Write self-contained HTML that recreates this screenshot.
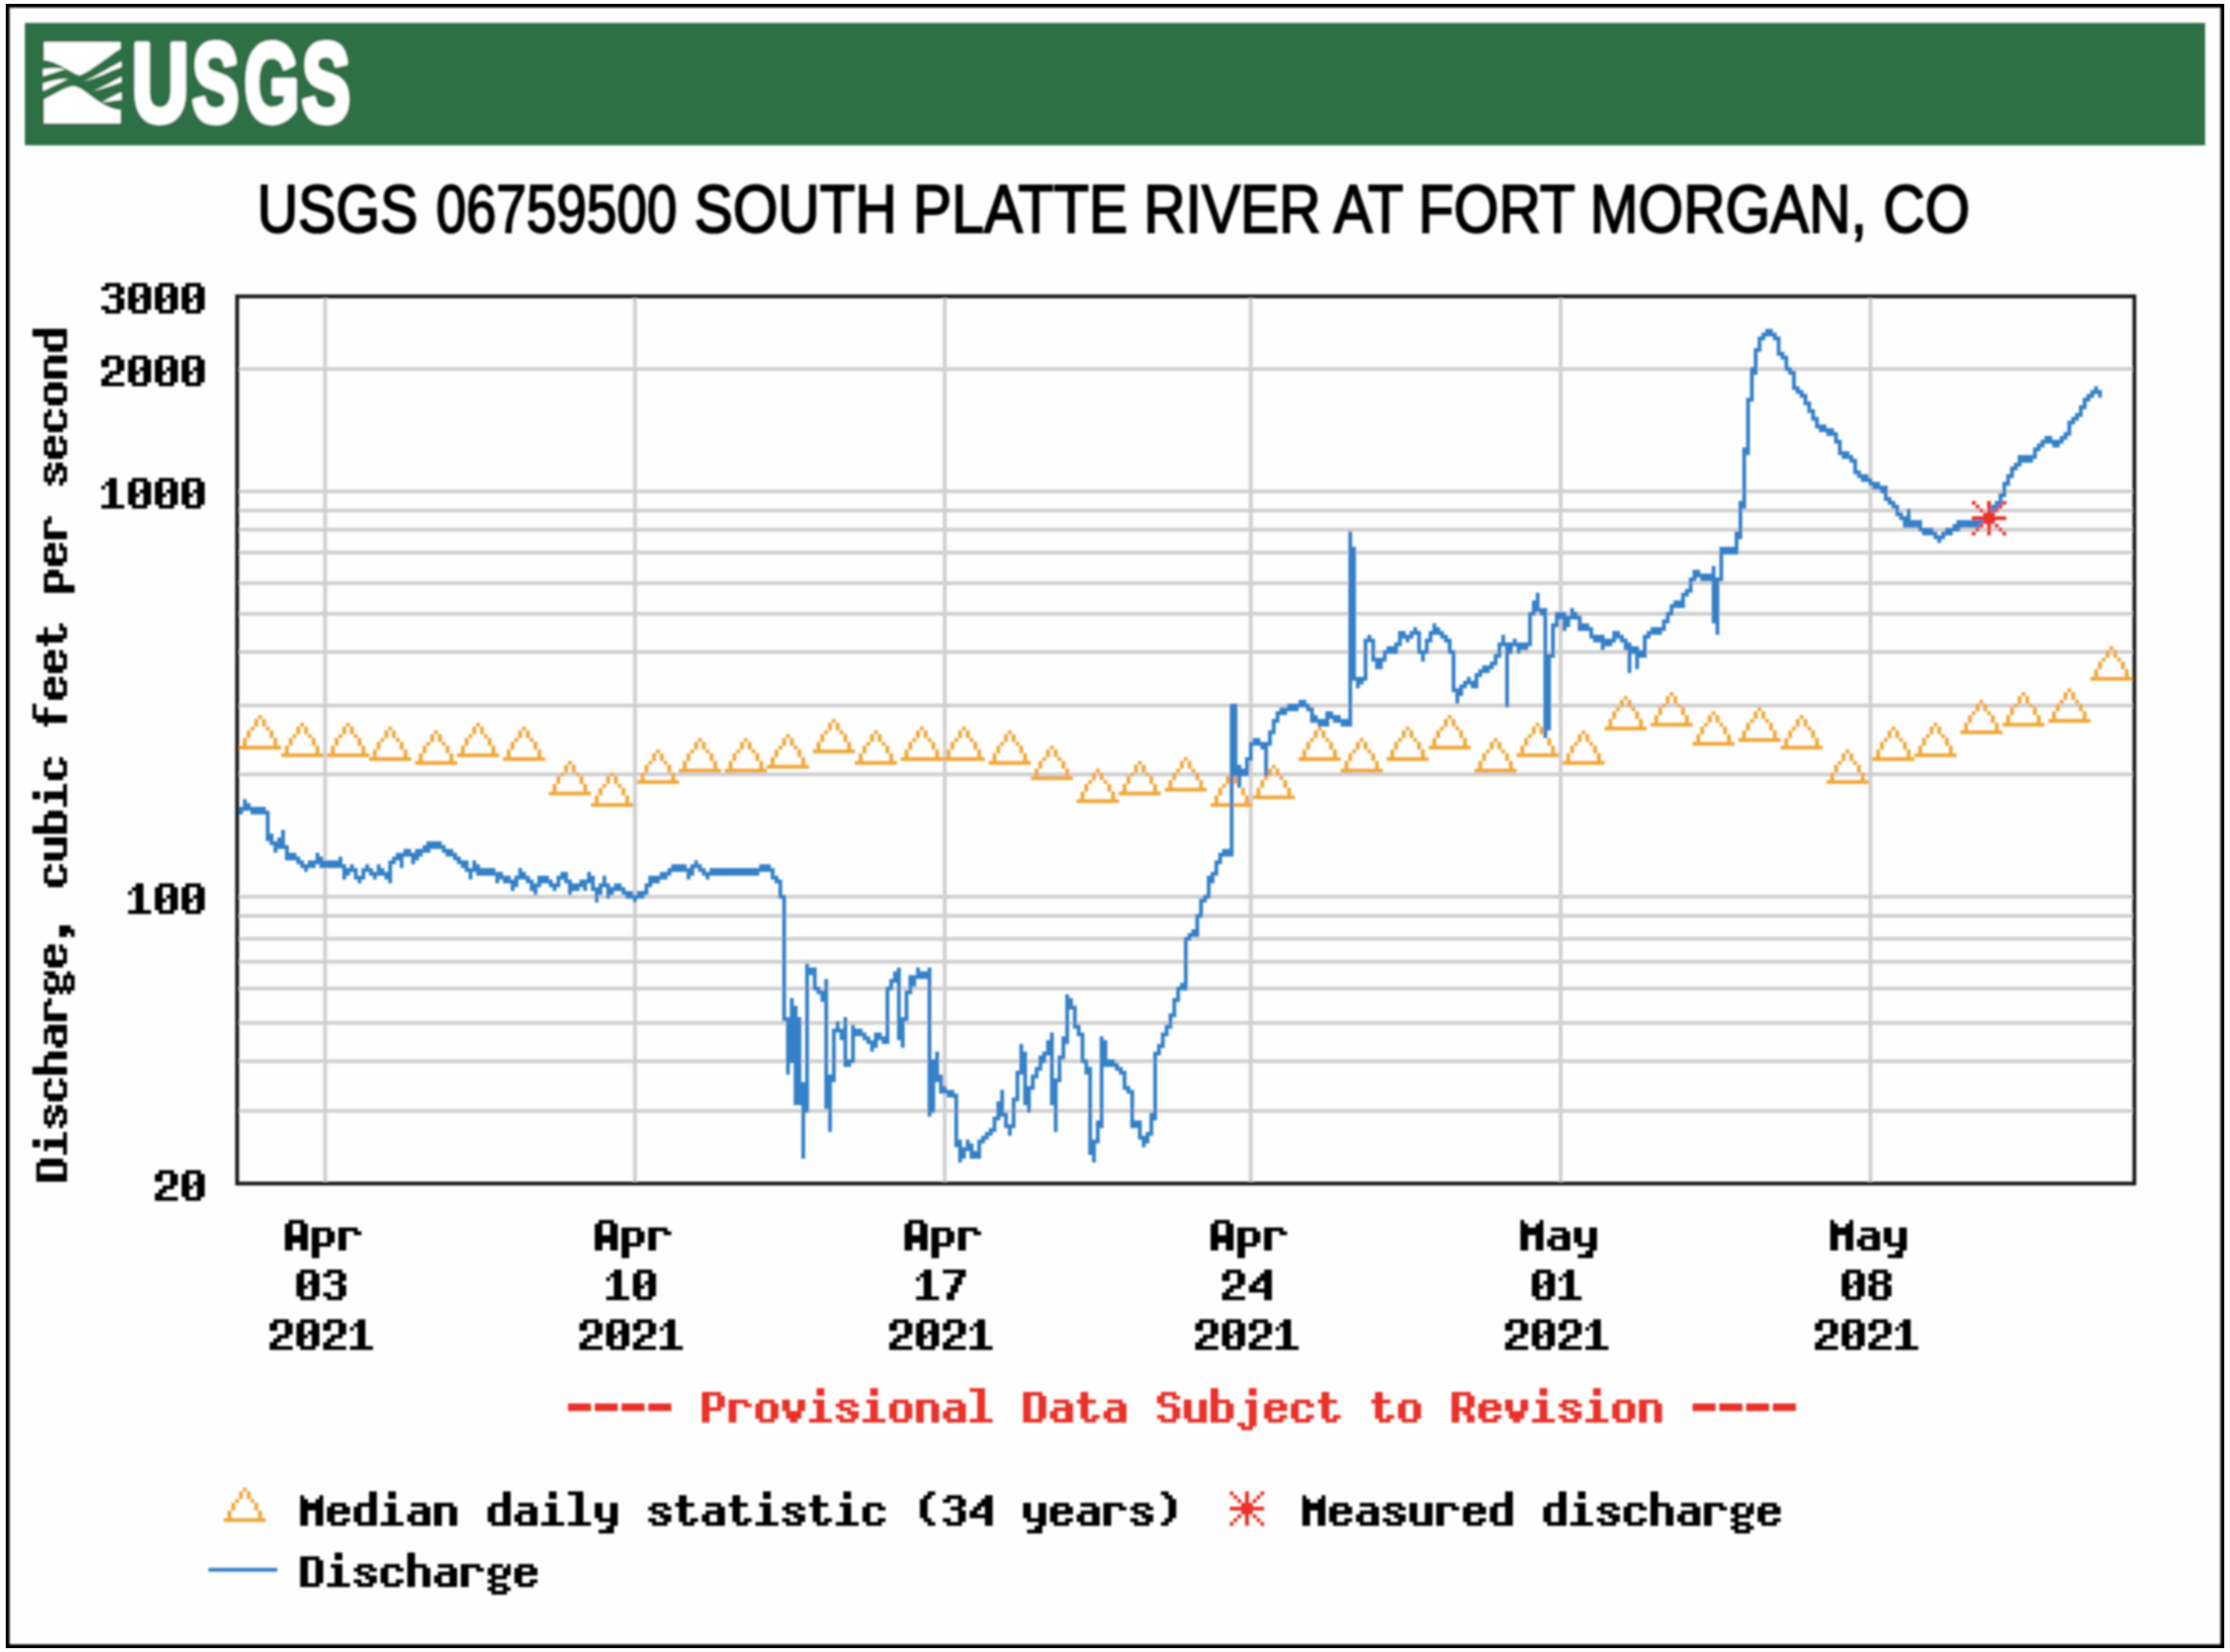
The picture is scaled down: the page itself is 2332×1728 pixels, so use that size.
<!DOCTYPE html><html><head><meta charset="utf-8"><style>html,body{margin:0;padding:0;background:#fff;}svg{display:block;}</style></head><body>
<svg width="2332" height="1728" viewBox="0 0 2332 1728">
<defs><filter id="blur" x="0" y="0" width="100%" height="100%" filterUnits="userSpaceOnUse"><feGaussianBlur stdDeviation="1.3"/></filter></defs>
<rect x="0" y="0" width="2332" height="1728" fill="#fefefe"/>
<g filter="url(#blur)">
<rect x="8" y="6" width="2316" height="1716" fill="none" stroke="#000" stroke-width="4"/>
<rect x="26" y="24" width="2280" height="128" fill="#2f6f45"/>
<g id="logo">
<rect x="46" y="44" width="80" height="85" fill="#fff"/>
<g transform="translate(46,44)">
<path d="M0,19 C14,20 24,30 37,35 C50,30 64,17 80,7 L80,71 C70,70 62,66 50,57 C42,51 36,46 30,46 C20,48 10,55 0,60 Z" fill="#2f6f45"/>
<g fill="#fff">
<path d="M-1,28.2 C8,27 16,27 23,28.2 C16,30 8,33 -1,35.7 Z"/>
<path d="M-1,43.2 C9,40 18,38 25.6,38.6 C18,42 9,47 -1,51.2 Z"/>
<path d="M81,20.2 C66,28 54,36 41.2,41.4 C54,38 68,31 81,25.9 Z"/>
<path d="M81,36.3 C70,42 60,48 51.5,51.2 C60,49 70,46 81,42 Z"/>
<path d="M81,52.4 C72,56 66,60 60.1,63.3 C68,62 74,61 81,60.4 Z"/>
</g></g>
</g>
<text transform="translate(137.7,127.1) scale(0.667,0.937)" x="0" y="0" font-family="Liberation Sans" font-weight="bold" font-size="124" fill="#fff" stroke="#fff" stroke-width="5" vector-effect="non-scaling-stroke" stroke-linejoin="round">U</text>
<text transform="translate(201.1,127.1) scale(0.59,0.937)" x="0" y="0" font-family="Liberation Sans" font-weight="bold" font-size="124" fill="#fff" stroke="#fff" stroke-width="5" vector-effect="non-scaling-stroke" stroke-linejoin="round">S</text>
<text transform="translate(255.5,127.1) scale(0.595,0.937)" x="0" y="0" font-family="Liberation Sans" font-weight="bold" font-size="124" fill="#fff" stroke="#fff" stroke-width="5" vector-effect="non-scaling-stroke" stroke-linejoin="round">G</text>
<text transform="translate(315.8,127.1) scale(0.61,0.937)" x="0" y="0" font-family="Liberation Sans" font-weight="bold" font-size="124" fill="#fff" stroke="#fff" stroke-width="5" vector-effect="non-scaling-stroke" stroke-linejoin="round">S</text>
<text x="269" y="242.5" font-family="Liberation Sans" font-size="71" fill="#000" stroke="#000" stroke-width="2" lengthAdjust="spacingAndGlyphs" textLength="168">USGS</text>
<text x="456" y="242.5" font-family="Liberation Sans" font-size="71" fill="#000" stroke="#000" stroke-width="2" lengthAdjust="spacingAndGlyphs" textLength="252">06759500</text>
<text x="726" y="242.5" font-family="Liberation Sans" font-size="71" fill="#000" stroke="#000" stroke-width="2" lengthAdjust="spacingAndGlyphs" textLength="1334">SOUTH PLATTE RIVER AT FORT MORGAN, CO</text>
<path d="M250,1162H2230 M250,1110H2230 M250,1070H2230 M250,1034H2230 M250,1006H2230 M250,982H2230 M250,958H2230 M250,938H2230 M250,810H2230 M250,738H2230 M250,682H2230 M250,642H2230 M250,610H2230 M250,578H2230 M250,554H2230 M250,534H2230 M250,514H2230 M250,386H2230 M340,312V1236 M664,312V1236 M988,312V1236 M1308,312V1236 M1632,312V1236 M1956,312V1236" stroke="#d0d0d0" stroke-width="4" fill="none"/>
<path d="M270,748h4v4h-4zM266,752h4v4h-4zM274,752h4v4h-4zM266,756h4v4h-4zM274,756h4v4h-4zM262,760h4v4h-4zM278,760h4v4h-4zM258,764h4v4h-4zM282,764h4v4h-4zM258,768h4v4h-4zM282,768h4v4h-4zM254,772h4v4h-4zM286,772h4v4h-4zM254,776h4v4h-4zM286,776h4v4h-4zM250,780h44v4h-44zM314,756h4v4h-4zM310,760h4v4h-4zM318,760h4v4h-4zM310,764h4v4h-4zM318,764h4v4h-4zM306,768h4v4h-4zM322,768h4v4h-4zM302,772h4v4h-4zM326,772h4v4h-4zM302,776h4v4h-4zM326,776h4v4h-4zM298,780h4v4h-4zM330,780h4v4h-4zM298,784h4v4h-4zM330,784h4v4h-4zM294,788h44v4h-44zM362,756h4v4h-4zM358,760h4v4h-4zM366,760h4v4h-4zM358,764h4v4h-4zM366,764h4v4h-4zM354,768h4v4h-4zM370,768h4v4h-4zM350,772h4v4h-4zM374,772h4v4h-4zM350,776h4v4h-4zM374,776h4v4h-4zM346,780h4v4h-4zM378,780h4v4h-4zM346,784h4v4h-4zM378,784h4v4h-4zM342,788h44v4h-44zM406,760h4v4h-4zM402,764h4v4h-4zM410,764h4v4h-4zM402,768h4v4h-4zM410,768h4v4h-4zM398,772h4v4h-4zM414,772h4v4h-4zM394,776h4v4h-4zM418,776h4v4h-4zM394,780h4v4h-4zM418,780h4v4h-4zM390,784h4v4h-4zM422,784h4v4h-4zM390,788h4v4h-4zM422,788h4v4h-4zM386,792h44v4h-44zM454,764h4v4h-4zM450,768h4v4h-4zM458,768h4v4h-4zM450,772h4v4h-4zM458,772h4v4h-4zM446,776h4v4h-4zM462,776h4v4h-4zM442,780h4v4h-4zM466,780h4v4h-4zM442,784h4v4h-4zM466,784h4v4h-4zM438,788h4v4h-4zM470,788h4v4h-4zM438,792h4v4h-4zM470,792h4v4h-4zM434,796h44v4h-44zM498,756h4v4h-4zM494,760h4v4h-4zM502,760h4v4h-4zM494,764h4v4h-4zM502,764h4v4h-4zM490,768h4v4h-4zM506,768h4v4h-4zM486,772h4v4h-4zM510,772h4v4h-4zM486,776h4v4h-4zM510,776h4v4h-4zM482,780h4v4h-4zM514,780h4v4h-4zM482,784h4v4h-4zM514,784h4v4h-4zM478,788h44v4h-44zM546,760h4v4h-4zM542,764h4v4h-4zM550,764h4v4h-4zM542,768h4v4h-4zM550,768h4v4h-4zM538,772h4v4h-4zM554,772h4v4h-4zM534,776h4v4h-4zM558,776h4v4h-4zM534,780h4v4h-4zM558,780h4v4h-4zM530,784h4v4h-4zM562,784h4v4h-4zM530,788h4v4h-4zM562,788h4v4h-4zM526,792h44v4h-44zM594,796h4v4h-4zM590,800h4v4h-4zM598,800h4v4h-4zM590,804h4v4h-4zM598,804h4v4h-4zM586,808h4v4h-4zM602,808h4v4h-4zM582,812h4v4h-4zM606,812h4v4h-4zM582,816h4v4h-4zM606,816h4v4h-4zM578,820h4v4h-4zM610,820h4v4h-4zM578,824h4v4h-4zM610,824h4v4h-4zM574,828h44v4h-44zM638,808h4v4h-4zM634,812h4v4h-4zM642,812h4v4h-4zM634,816h4v4h-4zM642,816h4v4h-4zM630,820h4v4h-4zM646,820h4v4h-4zM626,824h4v4h-4zM650,824h4v4h-4zM626,828h4v4h-4zM650,828h4v4h-4zM622,832h4v4h-4zM654,832h4v4h-4zM622,836h4v4h-4zM654,836h4v4h-4zM618,840h44v4h-44zM686,784h4v4h-4zM682,788h4v4h-4zM690,788h4v4h-4zM682,792h4v4h-4zM690,792h4v4h-4zM678,796h4v4h-4zM694,796h4v4h-4zM674,800h4v4h-4zM698,800h4v4h-4zM674,804h4v4h-4zM698,804h4v4h-4zM670,808h4v4h-4zM702,808h4v4h-4zM670,812h4v4h-4zM702,812h4v4h-4zM666,816h44v4h-44zM730,772h4v4h-4zM726,776h4v4h-4zM734,776h4v4h-4zM726,780h4v4h-4zM734,780h4v4h-4zM722,784h4v4h-4zM738,784h4v4h-4zM718,788h4v4h-4zM742,788h4v4h-4zM718,792h4v4h-4zM742,792h4v4h-4zM714,796h4v4h-4zM746,796h4v4h-4zM714,800h4v4h-4zM746,800h4v4h-4zM710,804h44v4h-44zM778,772h4v4h-4zM774,776h4v4h-4zM782,776h4v4h-4zM774,780h4v4h-4zM782,780h4v4h-4zM770,784h4v4h-4zM786,784h4v4h-4zM766,788h4v4h-4zM790,788h4v4h-4zM766,792h4v4h-4zM790,792h4v4h-4zM762,796h4v4h-4zM794,796h4v4h-4zM762,800h4v4h-4zM794,800h4v4h-4zM758,804h44v4h-44zM822,768h4v4h-4zM818,772h4v4h-4zM826,772h4v4h-4zM818,776h4v4h-4zM826,776h4v4h-4zM814,780h4v4h-4zM830,780h4v4h-4zM810,784h4v4h-4zM834,784h4v4h-4zM810,788h4v4h-4zM834,788h4v4h-4zM806,792h4v4h-4zM838,792h4v4h-4zM806,796h4v4h-4zM838,796h4v4h-4zM802,800h44v4h-44zM870,752h4v4h-4zM866,756h4v4h-4zM874,756h4v4h-4zM866,760h4v4h-4zM874,760h4v4h-4zM862,764h4v4h-4zM878,764h4v4h-4zM858,768h4v4h-4zM882,768h4v4h-4zM858,772h4v4h-4zM882,772h4v4h-4zM854,776h4v4h-4zM886,776h4v4h-4zM854,780h4v4h-4zM886,780h4v4h-4zM850,784h44v4h-44zM914,764h4v4h-4zM910,768h4v4h-4zM918,768h4v4h-4zM910,772h4v4h-4zM918,772h4v4h-4zM906,776h4v4h-4zM922,776h4v4h-4zM902,780h4v4h-4zM926,780h4v4h-4zM902,784h4v4h-4zM926,784h4v4h-4zM898,788h4v4h-4zM930,788h4v4h-4zM898,792h4v4h-4zM930,792h4v4h-4zM894,796h44v4h-44zM962,760h4v4h-4zM958,764h4v4h-4zM966,764h4v4h-4zM958,768h4v4h-4zM966,768h4v4h-4zM954,772h4v4h-4zM970,772h4v4h-4zM950,776h4v4h-4zM974,776h4v4h-4zM950,780h4v4h-4zM974,780h4v4h-4zM946,784h4v4h-4zM978,784h4v4h-4zM946,788h4v4h-4zM978,788h4v4h-4zM942,792h44v4h-44zM1006,760h4v4h-4zM1002,764h4v4h-4zM1010,764h4v4h-4zM1002,768h4v4h-4zM1010,768h4v4h-4zM998,772h4v4h-4zM1014,772h4v4h-4zM994,776h4v4h-4zM1018,776h4v4h-4zM994,780h4v4h-4zM1018,780h4v4h-4zM990,784h4v4h-4zM1022,784h4v4h-4zM990,788h4v4h-4zM1022,788h4v4h-4zM986,792h44v4h-44zM1054,764h4v4h-4zM1050,768h4v4h-4zM1058,768h4v4h-4zM1050,772h4v4h-4zM1058,772h4v4h-4zM1046,776h4v4h-4zM1062,776h4v4h-4zM1042,780h4v4h-4zM1066,780h4v4h-4zM1042,784h4v4h-4zM1066,784h4v4h-4zM1038,788h4v4h-4zM1070,788h4v4h-4zM1038,792h4v4h-4zM1070,792h4v4h-4zM1034,796h44v4h-44zM1098,780h4v4h-4zM1094,784h4v4h-4zM1102,784h4v4h-4zM1094,788h4v4h-4zM1102,788h4v4h-4zM1090,792h4v4h-4zM1106,792h4v4h-4zM1086,796h4v4h-4zM1110,796h4v4h-4zM1086,800h4v4h-4zM1110,800h4v4h-4zM1082,804h4v4h-4zM1114,804h4v4h-4zM1082,808h4v4h-4zM1114,808h4v4h-4zM1078,812h44v4h-44zM1146,804h4v4h-4zM1142,808h4v4h-4zM1150,808h4v4h-4zM1142,812h4v4h-4zM1150,812h4v4h-4zM1138,816h4v4h-4zM1154,816h4v4h-4zM1134,820h4v4h-4zM1158,820h4v4h-4zM1134,824h4v4h-4zM1158,824h4v4h-4zM1130,828h4v4h-4zM1162,828h4v4h-4zM1130,832h4v4h-4zM1162,832h4v4h-4zM1126,836h44v4h-44zM1190,796h4v4h-4zM1186,800h4v4h-4zM1194,800h4v4h-4zM1186,804h4v4h-4zM1194,804h4v4h-4zM1182,808h4v4h-4zM1198,808h4v4h-4zM1178,812h4v4h-4zM1202,812h4v4h-4zM1178,816h4v4h-4zM1202,816h4v4h-4zM1174,820h4v4h-4zM1206,820h4v4h-4zM1174,824h4v4h-4zM1206,824h4v4h-4zM1170,828h44v4h-44zM1238,792h4v4h-4zM1234,796h4v4h-4zM1242,796h4v4h-4zM1234,800h4v4h-4zM1242,800h4v4h-4zM1230,804h4v4h-4zM1246,804h4v4h-4zM1226,808h4v4h-4zM1250,808h4v4h-4zM1226,812h4v4h-4zM1250,812h4v4h-4zM1222,816h4v4h-4zM1254,816h4v4h-4zM1222,820h4v4h-4zM1254,820h4v4h-4zM1218,824h44v4h-44zM1286,808h4v4h-4zM1282,812h4v4h-4zM1290,812h4v4h-4zM1282,816h4v4h-4zM1290,816h4v4h-4zM1278,820h4v4h-4zM1294,820h4v4h-4zM1274,824h4v4h-4zM1298,824h4v4h-4zM1274,828h4v4h-4zM1298,828h4v4h-4zM1270,832h4v4h-4zM1302,832h4v4h-4zM1270,836h4v4h-4zM1302,836h4v4h-4zM1266,840h44v4h-44zM1330,800h4v4h-4zM1326,804h4v4h-4zM1334,804h4v4h-4zM1326,808h4v4h-4zM1334,808h4v4h-4zM1322,812h4v4h-4zM1338,812h4v4h-4zM1318,816h4v4h-4zM1342,816h4v4h-4zM1318,820h4v4h-4zM1342,820h4v4h-4zM1314,824h4v4h-4zM1346,824h4v4h-4zM1314,828h4v4h-4zM1346,828h4v4h-4zM1310,832h44v4h-44zM1378,760h4v4h-4zM1374,764h4v4h-4zM1382,764h4v4h-4zM1374,768h4v4h-4zM1382,768h4v4h-4zM1370,772h4v4h-4zM1386,772h4v4h-4zM1366,776h4v4h-4zM1390,776h4v4h-4zM1366,780h4v4h-4zM1390,780h4v4h-4zM1362,784h4v4h-4zM1394,784h4v4h-4zM1362,788h4v4h-4zM1394,788h4v4h-4zM1358,792h44v4h-44zM1422,772h4v4h-4zM1418,776h4v4h-4zM1426,776h4v4h-4zM1418,780h4v4h-4zM1426,780h4v4h-4zM1414,784h4v4h-4zM1430,784h4v4h-4zM1410,788h4v4h-4zM1434,788h4v4h-4zM1410,792h4v4h-4zM1434,792h4v4h-4zM1406,796h4v4h-4zM1438,796h4v4h-4zM1406,800h4v4h-4zM1438,800h4v4h-4zM1402,804h44v4h-44zM1470,760h4v4h-4zM1466,764h4v4h-4zM1474,764h4v4h-4zM1466,768h4v4h-4zM1474,768h4v4h-4zM1462,772h4v4h-4zM1478,772h4v4h-4zM1458,776h4v4h-4zM1482,776h4v4h-4zM1458,780h4v4h-4zM1482,780h4v4h-4zM1454,784h4v4h-4zM1486,784h4v4h-4zM1454,788h4v4h-4zM1486,788h4v4h-4zM1450,792h44v4h-44zM1514,748h4v4h-4zM1510,752h4v4h-4zM1518,752h4v4h-4zM1510,756h4v4h-4zM1518,756h4v4h-4zM1506,760h4v4h-4zM1522,760h4v4h-4zM1502,764h4v4h-4zM1526,764h4v4h-4zM1502,768h4v4h-4zM1526,768h4v4h-4zM1498,772h4v4h-4zM1530,772h4v4h-4zM1498,776h4v4h-4zM1530,776h4v4h-4zM1494,780h44v4h-44zM1562,772h4v4h-4zM1558,776h4v4h-4zM1566,776h4v4h-4zM1558,780h4v4h-4zM1566,780h4v4h-4zM1554,784h4v4h-4zM1570,784h4v4h-4zM1550,788h4v4h-4zM1574,788h4v4h-4zM1550,792h4v4h-4zM1574,792h4v4h-4zM1546,796h4v4h-4zM1578,796h4v4h-4zM1546,800h4v4h-4zM1578,800h4v4h-4zM1542,804h44v4h-44zM1606,756h4v4h-4zM1602,760h4v4h-4zM1610,760h4v4h-4zM1602,764h4v4h-4zM1610,764h4v4h-4zM1598,768h4v4h-4zM1614,768h4v4h-4zM1594,772h4v4h-4zM1618,772h4v4h-4zM1594,776h4v4h-4zM1618,776h4v4h-4zM1590,780h4v4h-4zM1622,780h4v4h-4zM1590,784h4v4h-4zM1622,784h4v4h-4zM1586,788h44v4h-44zM1654,764h4v4h-4zM1650,768h4v4h-4zM1658,768h4v4h-4zM1650,772h4v4h-4zM1658,772h4v4h-4zM1646,776h4v4h-4zM1662,776h4v4h-4zM1642,780h4v4h-4zM1666,780h4v4h-4zM1642,784h4v4h-4zM1666,784h4v4h-4zM1638,788h4v4h-4zM1670,788h4v4h-4zM1638,792h4v4h-4zM1670,792h4v4h-4zM1634,796h44v4h-44zM1698,728h4v4h-4zM1694,732h4v4h-4zM1702,732h4v4h-4zM1694,736h4v4h-4zM1702,736h4v4h-4zM1690,740h4v4h-4zM1706,740h4v4h-4zM1686,744h4v4h-4zM1710,744h4v4h-4zM1686,748h4v4h-4zM1710,748h4v4h-4zM1682,752h4v4h-4zM1714,752h4v4h-4zM1682,756h4v4h-4zM1714,756h4v4h-4zM1678,760h44v4h-44zM1746,724h4v4h-4zM1742,728h4v4h-4zM1750,728h4v4h-4zM1742,732h4v4h-4zM1750,732h4v4h-4zM1738,736h4v4h-4zM1754,736h4v4h-4zM1734,740h4v4h-4zM1758,740h4v4h-4zM1734,744h4v4h-4zM1758,744h4v4h-4zM1730,748h4v4h-4zM1762,748h4v4h-4zM1730,752h4v4h-4zM1762,752h4v4h-4zM1726,756h44v4h-44zM1790,744h4v4h-4zM1786,748h4v4h-4zM1794,748h4v4h-4zM1786,752h4v4h-4zM1794,752h4v4h-4zM1782,756h4v4h-4zM1798,756h4v4h-4zM1778,760h4v4h-4zM1802,760h4v4h-4zM1778,764h4v4h-4zM1802,764h4v4h-4zM1774,768h4v4h-4zM1806,768h4v4h-4zM1774,772h4v4h-4zM1806,772h4v4h-4zM1770,776h44v4h-44zM1838,740h4v4h-4zM1834,744h4v4h-4zM1842,744h4v4h-4zM1834,748h4v4h-4zM1842,748h4v4h-4zM1830,752h4v4h-4zM1846,752h4v4h-4zM1826,756h4v4h-4zM1850,756h4v4h-4zM1826,760h4v4h-4zM1850,760h4v4h-4zM1822,764h4v4h-4zM1854,764h4v4h-4zM1822,768h4v4h-4zM1854,768h4v4h-4zM1818,772h44v4h-44zM1882,748h4v4h-4zM1878,752h4v4h-4zM1886,752h4v4h-4zM1878,756h4v4h-4zM1886,756h4v4h-4zM1874,760h4v4h-4zM1890,760h4v4h-4zM1870,764h4v4h-4zM1894,764h4v4h-4zM1870,768h4v4h-4zM1894,768h4v4h-4zM1866,772h4v4h-4zM1898,772h4v4h-4zM1866,776h4v4h-4zM1898,776h4v4h-4zM1862,780h44v4h-44zM1930,784h4v4h-4zM1926,788h4v4h-4zM1934,788h4v4h-4zM1926,792h4v4h-4zM1934,792h4v4h-4zM1922,796h4v4h-4zM1938,796h4v4h-4zM1918,800h4v4h-4zM1942,800h4v4h-4zM1918,804h4v4h-4zM1942,804h4v4h-4zM1914,808h4v4h-4zM1946,808h4v4h-4zM1914,812h4v4h-4zM1946,812h4v4h-4zM1910,816h44v4h-44zM1978,760h4v4h-4zM1974,764h4v4h-4zM1982,764h4v4h-4zM1974,768h4v4h-4zM1982,768h4v4h-4zM1970,772h4v4h-4zM1986,772h4v4h-4zM1966,776h4v4h-4zM1990,776h4v4h-4zM1966,780h4v4h-4zM1990,780h4v4h-4zM1962,784h4v4h-4zM1994,784h4v4h-4zM1962,788h4v4h-4zM1994,788h4v4h-4zM1958,792h44v4h-44zM2022,756h4v4h-4zM2018,760h4v4h-4zM2026,760h4v4h-4zM2018,764h4v4h-4zM2026,764h4v4h-4zM2014,768h4v4h-4zM2030,768h4v4h-4zM2010,772h4v4h-4zM2034,772h4v4h-4zM2010,776h4v4h-4zM2034,776h4v4h-4zM2006,780h4v4h-4zM2038,780h4v4h-4zM2006,784h4v4h-4zM2038,784h4v4h-4zM2002,788h44v4h-44zM2070,732h4v4h-4zM2066,736h4v4h-4zM2074,736h4v4h-4zM2066,740h4v4h-4zM2074,740h4v4h-4zM2062,744h4v4h-4zM2078,744h4v4h-4zM2058,748h4v4h-4zM2082,748h4v4h-4zM2058,752h4v4h-4zM2082,752h4v4h-4zM2054,756h4v4h-4zM2086,756h4v4h-4zM2054,760h4v4h-4zM2086,760h4v4h-4zM2050,764h44v4h-44zM2114,724h4v4h-4zM2110,728h4v4h-4zM2118,728h4v4h-4zM2110,732h4v4h-4zM2118,732h4v4h-4zM2106,736h4v4h-4zM2122,736h4v4h-4zM2102,740h4v4h-4zM2126,740h4v4h-4zM2102,744h4v4h-4zM2126,744h4v4h-4zM2098,748h4v4h-4zM2130,748h4v4h-4zM2098,752h4v4h-4zM2130,752h4v4h-4zM2094,756h44v4h-44zM2162,720h4v4h-4zM2158,724h4v4h-4zM2166,724h4v4h-4zM2158,728h4v4h-4zM2166,728h4v4h-4zM2154,732h4v4h-4zM2170,732h4v4h-4zM2150,736h4v4h-4zM2174,736h4v4h-4zM2150,740h4v4h-4zM2174,740h4v4h-4zM2146,744h4v4h-4zM2178,744h4v4h-4zM2146,748h4v4h-4zM2178,748h4v4h-4zM2142,752h44v4h-44zM2206,676h4v4h-4zM2202,680h4v4h-4zM2210,680h4v4h-4zM2202,684h4v4h-4zM2210,684h4v4h-4zM2198,688h4v4h-4zM2214,688h4v4h-4zM2194,692h4v4h-4zM2218,692h4v4h-4zM2194,696h4v4h-4zM2218,696h4v4h-4zM2190,700h4v4h-4zM2222,700h4v4h-4zM2190,704h4v4h-4zM2222,704h4v4h-4zM2186,708h44v4h-44z" fill="#f0a83a"/>
<path d="M1846,344h8v4h-8zM1842,348h16v4h-16zM1838,352h8v4h-8zM1854,352h8v4h-8zM1838,356h4v4h-4zM1858,356h4v4h-4zM1838,360h4v4h-4zM1858,360h4v4h-4zM1834,364h8v4h-8zM1858,364h4v4h-4zM1834,368h4v4h-4zM1858,368h8v4h-8zM1834,372h4v4h-4zM1862,372h8v4h-8zM1834,376h4v4h-4zM1866,376h4v4h-4zM1834,380h4v4h-4zM1866,380h4v4h-4zM1830,384h8v4h-8zM1866,384h8v4h-8zM1830,388h8v4h-8zM1870,388h8v4h-8zM1830,392h4v4h-4zM1874,392h4v4h-4zM1830,396h4v4h-4zM1874,396h4v4h-4zM1830,400h4v4h-4zM1874,400h4v4h-4zM1830,404h4v4h-4zM1874,404h8v4h-8zM2190,404h4v4h-4zM1830,408h4v4h-4zM1878,408h8v4h-8zM2186,408h12v4h-12zM1830,412h4v4h-4zM1882,412h8v4h-8zM2182,412h8v4h-8zM2194,412h4v4h-4zM1826,416h8v4h-8zM1886,416h4v4h-4zM2178,416h8v4h-8zM1826,420h4v4h-4zM1886,420h8v4h-8zM2178,420h4v4h-4zM1826,424h4v4h-4zM1890,424h4v4h-4zM2174,424h8v4h-8zM1826,428h4v4h-4zM1890,428h8v4h-8zM2174,428h4v4h-4zM1826,432h4v4h-4zM1894,432h4v4h-4zM2170,432h8v4h-8zM1826,436h4v4h-4zM1894,436h8v4h-8zM2166,436h8v4h-8zM1826,440h4v4h-4zM1898,440h4v4h-4zM2162,440h8v4h-8zM1826,444h4v4h-4zM1898,444h12v4h-12zM2162,444h4v4h-4zM1826,448h4v4h-4zM1902,448h16v4h-16zM2162,448h4v4h-4zM1826,452h4v4h-4zM1910,452h12v4h-12zM2158,452h8v4h-8zM1826,456h4v4h-4zM1918,456h4v4h-4zM2138,456h8v4h-8zM2154,456h8v4h-8zM1826,460h4v4h-4zM1918,460h8v4h-8zM2134,460h24v4h-24zM1826,464h4v4h-4zM1922,464h4v4h-4zM2130,464h8v4h-8zM2146,464h8v4h-8zM1822,468h8v4h-8zM1922,468h4v4h-4zM2126,468h8v4h-8zM1822,472h8v4h-8zM1922,472h12v4h-12zM2126,472h4v4h-4zM1822,476h4v4h-4zM1926,476h12v4h-12zM2110,476h20v4h-20zM1822,480h4v4h-4zM1934,480h8v4h-8zM2110,480h16v4h-16zM1822,484h4v4h-4zM1938,484h4v4h-4zM2106,484h8v4h-8zM1822,488h4v4h-4zM1938,488h4v4h-4zM2102,488h8v4h-8zM1822,492h4v4h-4zM1938,492h8v4h-8zM2102,492h4v4h-4zM1822,496h4v4h-4zM1942,496h12v4h-12zM2098,496h8v4h-8zM1822,500h4v4h-4zM1946,500h12v4h-12zM2098,500h4v4h-4zM1822,504h4v4h-4zM1954,504h12v4h-12zM2094,504h8v4h-8zM1822,508h4v4h-4zM1958,508h16v4h-16zM2094,508h4v4h-4zM1822,512h4v4h-4zM1966,512h8v4h-8zM2094,512h4v4h-4zM1822,516h4v4h-4zM1970,516h4v4h-4zM2090,516h8v4h-8zM1822,520h4v4h-4zM1970,520h8v4h-8zM2090,520h4v4h-4zM1818,524h8v4h-8zM1974,524h8v4h-8zM2086,524h8v4h-8zM1818,528h8v4h-8zM1978,528h8v4h-8zM2082,528h8v4h-8zM1818,532h4v4h-4zM1982,532h4v4h-4zM1994,532h4v4h-4zM2078,532h8v4h-8zM1818,536h4v4h-4zM1982,536h8v4h-8zM1994,536h4v4h-4zM2074,536h8v4h-8zM1818,540h4v4h-4zM1986,540h12v4h-12zM2074,540h4v4h-4zM1818,544h4v4h-4zM1990,544h20v4h-20zM2046,544h32v4h-32zM1818,548h4v4h-4zM1990,548h20v4h-20zM2042,548h32v4h-32zM1818,552h4v4h-4zM2006,552h16v4h-16zM2034,552h16v4h-16zM1410,556h4v4h-4zM1814,556h8v4h-8zM2010,556h16v4h-16zM2030,556h12v4h-12zM1410,560h4v4h-4zM1814,560h8v4h-8zM2022,560h12v4h-12zM1410,564h4v4h-4zM1814,564h4v4h-4zM2026,564h4v4h-4zM1410,568h4v4h-4zM1814,568h4v4h-4zM1410,572h8v4h-8zM1798,572h20v4h-20zM1410,576h8v4h-8zM1798,576h20v4h-20zM1410,580h8v4h-8zM1798,580h4v4h-4zM1410,584h8v4h-8zM1798,584h4v4h-4zM1410,588h8v4h-8zM1798,588h4v4h-4zM1410,592h8v4h-8zM1790,592h4v4h-4zM1798,592h4v4h-4zM1410,596h8v4h-8zM1770,596h8v4h-8zM1790,596h4v4h-4zM1798,596h4v4h-4zM1410,600h8v4h-8zM1770,600h24v4h-24zM1798,600h4v4h-4zM1410,604h8v4h-8zM1766,604h8v4h-8zM1778,604h24v4h-24zM1410,608h8v4h-8zM1766,608h4v4h-4zM1790,608h8v4h-8zM1410,612h8v4h-8zM1766,612h4v4h-4zM1790,612h8v4h-8zM1410,616h8v4h-8zM1762,616h8v4h-8zM1790,616h8v4h-8zM1410,620h8v4h-8zM1606,620h4v4h-4zM1758,620h8v4h-8zM1790,620h8v4h-8zM1410,624h8v4h-8zM1606,624h4v4h-4zM1758,624h4v4h-4zM1790,624h8v4h-8zM1410,628h8v4h-8zM1602,628h8v4h-8zM1750,628h12v4h-12zM1790,628h8v4h-8zM1410,632h8v4h-8zM1602,632h8v4h-8zM1746,632h16v4h-16zM1790,632h8v4h-8zM1410,636h8v4h-8zM1602,636h16v4h-16zM1642,636h4v4h-4zM1746,636h4v4h-4zM1790,636h8v4h-8zM1410,640h8v4h-8zM1598,640h8v4h-8zM1610,640h8v4h-8zM1626,640h12v4h-12zM1642,640h8v4h-8zM1742,640h8v4h-8zM1790,640h8v4h-8zM1410,644h8v4h-8zM1598,644h4v4h-4zM1614,644h4v4h-4zM1626,644h28v4h-28zM1742,644h4v4h-4zM1790,644h8v4h-8zM1410,648h8v4h-8zM1598,648h4v4h-4zM1614,648h4v4h-4zM1626,648h4v4h-4zM1634,648h8v4h-8zM1650,648h4v4h-4zM1738,648h8v4h-8zM1790,648h8v4h-8zM1410,652h8v4h-8zM1498,652h4v4h-4zM1598,652h4v4h-4zM1614,652h4v4h-4zM1622,652h8v4h-8zM1634,652h8v4h-8zM1650,652h12v4h-12zM1738,652h4v4h-4zM1794,652h4v4h-4zM1410,656h8v4h-8zM1478,656h4v4h-4zM1498,656h8v4h-8zM1598,656h4v4h-4zM1614,656h4v4h-4zM1622,656h4v4h-4zM1634,656h4v4h-4zM1650,656h16v4h-16zM1726,656h16v4h-16zM1794,656h4v4h-4zM1410,660h8v4h-8zM1462,660h8v4h-8zM1474,660h12v4h-12zM1494,660h16v4h-16zM1598,660h4v4h-4zM1614,660h4v4h-4zM1622,660h4v4h-4zM1662,660h4v4h-4zM1686,660h8v4h-8zM1722,660h16v4h-16zM1794,660h4v4h-4zM1410,664h8v4h-8zM1430,664h4v4h-4zM1462,664h16v4h-16zM1482,664h4v4h-4zM1494,664h4v4h-4zM1506,664h8v4h-8zM1570,664h4v4h-4zM1598,664h4v4h-4zM1614,664h4v4h-4zM1622,664h4v4h-4zM1662,664h16v4h-16zM1686,664h12v4h-12zM1718,664h8v4h-8zM1410,668h8v4h-8zM1426,668h12v4h-12zM1462,668h4v4h-4zM1470,668h4v4h-4zM1482,668h4v4h-4zM1490,668h8v4h-8zM1510,668h8v4h-8zM1570,668h4v4h-4zM1582,668h4v4h-4zM1598,668h4v4h-4zM1614,668h4v4h-4zM1622,668h4v4h-4zM1666,668h24v4h-24zM1694,668h8v4h-8zM1718,668h4v4h-4zM1410,672h8v4h-8zM1426,672h4v4h-4zM1434,672h4v4h-4zM1458,672h8v4h-8zM1482,672h4v4h-4zM1490,672h4v4h-4zM1514,672h4v4h-4zM1566,672h36v4h-36zM1614,672h4v4h-4zM1622,672h4v4h-4zM1674,672h12v4h-12zM1698,672h8v4h-8zM1718,672h4v4h-4zM1410,676h8v4h-8zM1426,676h4v4h-4zM1434,676h4v4h-4zM1450,676h12v4h-12zM1482,676h4v4h-4zM1490,676h4v4h-4zM1514,676h4v4h-4zM1566,676h4v4h-4zM1574,676h8v4h-8zM1586,676h12v4h-12zM1614,676h4v4h-4zM1622,676h4v4h-4zM1674,676h4v4h-4zM1698,676h16v4h-16zM1718,676h4v4h-4zM1410,680h8v4h-8zM1426,680h4v4h-4zM1434,680h4v4h-4zM1446,680h16v4h-16zM1482,680h12v4h-12zM1514,680h8v4h-8zM1566,680h4v4h-4zM1574,680h8v4h-8zM1586,680h4v4h-4zM1614,680h4v4h-4zM1622,680h4v4h-4zM1702,680h20v4h-20zM1410,684h8v4h-8zM1426,684h4v4h-4zM1434,684h4v4h-4zM1446,684h4v4h-4zM1486,684h4v4h-4zM1518,684h4v4h-4zM1562,684h8v4h-8zM1574,684h4v4h-4zM1614,684h12v4h-12zM1702,684h4v4h-4zM1710,684h12v4h-12zM1410,688h8v4h-8zM1426,688h4v4h-4zM1434,688h16v4h-16zM1486,688h4v4h-4zM1518,688h4v4h-4zM1562,688h4v4h-4zM1574,688h4v4h-4zM1614,688h8v4h-8zM1702,688h4v4h-4zM1710,688h4v4h-4zM1410,692h8v4h-8zM1426,692h4v4h-4zM1438,692h8v4h-8zM1518,692h4v4h-4zM1558,692h8v4h-8zM1574,692h4v4h-4zM1614,692h8v4h-8zM1702,692h4v4h-4zM1710,692h4v4h-4zM1410,696h8v4h-8zM1426,696h4v4h-4zM1438,696h8v4h-8zM1518,696h4v4h-4zM1550,696h12v4h-12zM1574,696h4v4h-4zM1614,696h8v4h-8zM1702,696h4v4h-4zM1710,696h4v4h-4zM1410,700h8v4h-8zM1426,700h4v4h-4zM1518,700h4v4h-4zM1546,700h12v4h-12zM1574,700h4v4h-4zM1614,700h8v4h-8zM1702,700h4v4h-4zM1410,704h8v4h-8zM1426,704h4v4h-4zM1518,704h4v4h-4zM1542,704h8v4h-8zM1574,704h4v4h-4zM1614,704h8v4h-8zM1410,708h20v4h-20zM1518,708h4v4h-4zM1534,708h4v4h-4zM1542,708h4v4h-4zM1574,708h4v4h-4zM1614,708h8v4h-8zM1410,712h4v4h-4zM1418,712h8v4h-8zM1518,712h4v4h-4zM1530,712h16v4h-16zM1574,712h4v4h-4zM1614,712h8v4h-8zM1410,716h4v4h-4zM1418,716h4v4h-4zM1518,716h4v4h-4zM1526,716h8v4h-8zM1538,716h8v4h-8zM1574,716h4v4h-4zM1614,716h8v4h-8zM1410,720h4v4h-4zM1518,720h12v4h-12zM1574,720h4v4h-4zM1614,720h8v4h-8zM1410,724h4v4h-4zM1522,724h8v4h-8zM1574,724h4v4h-4zM1614,724h8v4h-8zM1410,728h4v4h-4zM1522,728h4v4h-4zM1574,728h4v4h-4zM1614,728h8v4h-8zM1358,732h8v4h-8zM1410,732h4v4h-4zM1522,732h4v4h-4zM1574,732h4v4h-4zM1614,732h8v4h-8zM1286,736h8v4h-8zM1346,736h24v4h-24zM1410,736h4v4h-4zM1574,736h4v4h-4zM1614,736h8v4h-8zM1286,740h8v4h-8zM1338,740h20v4h-20zM1366,740h8v4h-8zM1410,740h4v4h-4zM1614,740h8v4h-8zM1286,744h8v4h-8zM1334,744h12v4h-12zM1370,744h4v4h-4zM1386,744h8v4h-8zM1410,744h4v4h-4zM1614,744h8v4h-8zM1286,748h8v4h-8zM1334,748h4v4h-4zM1370,748h8v4h-8zM1386,748h16v4h-16zM1410,748h4v4h-4zM1614,748h8v4h-8zM1286,752h8v4h-8zM1330,752h8v4h-8zM1370,752h20v4h-20zM1394,752h20v4h-20zM1614,752h8v4h-8zM1286,756h8v4h-8zM1330,756h4v4h-4zM1378,756h12v4h-12zM1402,756h12v4h-12zM1614,756h8v4h-8zM1286,760h8v4h-8zM1330,760h4v4h-4zM1614,760h8v4h-8zM1286,764h8v4h-8zM1326,764h8v4h-8zM1614,764h4v4h-4zM1286,768h8v4h-8zM1326,768h4v4h-4zM1614,768h4v4h-4zM1286,772h8v4h-8zM1310,772h8v4h-8zM1326,772h4v4h-4zM1286,776h8v4h-8zM1306,776h24v4h-24zM1286,780h8v4h-8zM1306,780h4v4h-4zM1318,780h8v4h-8zM1286,784h8v4h-8zM1306,784h4v4h-4zM1322,784h4v4h-4zM1286,788h8v4h-8zM1306,788h4v4h-4zM1322,788h4v4h-4zM1286,792h8v4h-8zM1302,792h8v4h-8zM1322,792h4v4h-4zM1286,796h8v4h-8zM1302,796h4v4h-4zM1322,796h4v4h-4zM1286,800h12v4h-12zM1302,800h4v4h-4zM1322,800h4v4h-4zM1286,804h20v4h-20zM1322,804h4v4h-4zM1286,808h20v4h-20zM1322,808h4v4h-4zM1286,812h4v4h-4zM1294,812h4v4h-4zM1286,816h4v4h-4zM1294,816h4v4h-4zM1286,820h4v4h-4zM1294,820h4v4h-4zM1286,824h4v4h-4zM1286,828h4v4h-4zM1286,832h4v4h-4zM254,836h4v4h-4zM1286,836h4v4h-4zM254,840h8v4h-8zM1286,840h4v4h-4zM250,844h28v4h-28zM1286,844h4v4h-4zM250,848h4v4h-4zM262,848h20v4h-20zM1286,848h4v4h-4zM278,852h4v4h-4zM1286,852h4v4h-4zM278,856h4v4h-4zM1286,856h4v4h-4zM278,860h4v4h-4zM1286,860h4v4h-4zM278,864h4v4h-4zM1286,864h4v4h-4zM278,868h4v4h-4zM294,868h4v4h-4zM1286,868h4v4h-4zM278,872h8v4h-8zM294,872h4v4h-4zM1286,872h4v4h-4zM278,876h8v4h-8zM290,876h8v4h-8zM1286,876h4v4h-4zM282,880h16v4h-16zM446,880h16v4h-16zM1286,880h4v4h-4zM286,884h16v4h-16zM442,884h24v4h-24zM1286,884h4v4h-4zM286,888h4v4h-4zM298,888h4v4h-4zM422,888h8v4h-8zM434,888h16v4h-16zM462,888h12v4h-12zM1278,888h12v4h-12zM298,892h12v4h-12zM330,892h4v4h-4zM414,892h28v4h-28zM466,892h12v4h-12zM1274,892h16v4h-16zM298,896h16v4h-16zM330,896h8v4h-8zM354,896h4v4h-4zM410,896h12v4h-12zM430,896h8v4h-8zM474,896h8v4h-8zM1274,896h4v4h-4zM310,900h8v4h-8zM322,900h36v4h-36zM406,900h8v4h-8zM418,900h4v4h-4zM430,900h4v4h-4zM478,900h12v4h-12zM494,900h4v4h-4zM726,900h4v4h-4zM1270,900h8v4h-8zM314,904h16v4h-16zM334,904h28v4h-28zM366,904h4v4h-4zM382,904h4v4h-4zM394,904h4v4h-4zM406,904h4v4h-4zM418,904h4v4h-4zM482,904h8v4h-8zM494,904h8v4h-8zM702,904h16v4h-16zM722,904h12v4h-12zM794,904h12v4h-12zM1270,904h4v4h-4zM318,908h4v4h-4zM358,908h16v4h-16zM378,908h12v4h-12zM394,908h8v4h-8zM406,908h4v4h-4zM486,908h32v4h-32zM542,908h4v4h-4zM698,908h28v4h-28zM730,908h8v4h-8zM742,908h68v4h-68zM1270,908h4v4h-4zM358,912h8v4h-8zM370,912h4v4h-4zM378,912h4v4h-4zM386,912h24v4h-24zM490,912h4v4h-4zM498,912h28v4h-28zM542,912h8v4h-8zM586,912h8v4h-8zM614,912h4v4h-4zM690,912h12v4h-12zM718,912h8v4h-8zM734,912h60v4h-60zM806,912h4v4h-4zM1266,912h8v4h-8zM358,916h4v4h-4zM370,916h12v4h-12zM390,916h4v4h-4zM402,916h8v4h-8zM490,916h4v4h-4zM518,916h16v4h-16zM538,916h16v4h-16zM562,916h12v4h-12zM582,916h12v4h-12zM614,916h8v4h-8zM630,916h4v4h-4zM678,916h20v4h-20zM718,916h4v4h-4zM738,916h4v4h-4zM806,916h8v4h-8zM1262,916h8v4h-8zM374,920h4v4h-4zM406,920h4v4h-4zM518,920h4v4h-4zM526,920h16v4h-16zM550,920h8v4h-8zM562,920h16v4h-16zM582,920h4v4h-4zM590,920h8v4h-8zM606,920h16v4h-16zM630,920h4v4h-4zM678,920h12v4h-12zM810,920h8v4h-8zM1262,920h8v4h-8zM534,924h8v4h-8zM554,924h12v4h-12zM574,924h12v4h-12zM594,924h20v4h-20zM618,924h4v4h-4zM626,924h12v4h-12zM642,924h8v4h-8zM674,924h8v4h-8zM814,924h4v4h-4zM1262,924h4v4h-4zM534,928h4v4h-4zM554,928h8v4h-8zM578,928h4v4h-4zM594,928h12v4h-12zM610,928h4v4h-4zM618,928h12v4h-12zM634,928h20v4h-20zM674,928h4v4h-4zM814,928h4v4h-4zM1262,928h4v4h-4zM558,932h4v4h-4zM594,932h4v4h-4zM622,932h8v4h-8zM634,932h8v4h-8zM650,932h12v4h-12zM666,932h12v4h-12zM814,932h4v4h-4zM1262,932h4v4h-4zM622,936h4v4h-4zM634,936h4v4h-4zM654,936h20v4h-20zM814,936h8v4h-8zM1258,936h8v4h-8zM622,940h4v4h-4zM662,940h4v4h-4zM818,940h4v4h-4zM1254,940h8v4h-8zM818,944h4v4h-4zM1254,944h4v4h-4zM818,948h4v4h-4zM1254,948h4v4h-4zM818,952h4v4h-4zM1254,952h4v4h-4zM818,956h4v4h-4zM1250,956h8v4h-8zM818,960h4v4h-4zM1250,960h4v4h-4zM818,964h4v4h-4zM1250,964h4v4h-4zM818,968h4v4h-4zM1250,968h4v4h-4zM818,972h4v4h-4zM1246,972h8v4h-8zM818,976h4v4h-4zM1242,976h12v4h-12zM818,980h4v4h-4zM1238,980h8v4h-8zM818,984h4v4h-4zM1238,984h4v4h-4zM818,988h4v4h-4zM1238,988h4v4h-4zM818,992h4v4h-4zM1238,992h4v4h-4zM818,996h4v4h-4zM1238,996h4v4h-4zM818,1000h4v4h-4zM1238,1000h4v4h-4zM818,1004h4v4h-4zM1238,1004h4v4h-4zM818,1008h4v4h-4zM842,1008h4v4h-4zM1238,1008h4v4h-4zM818,1012h4v4h-4zM842,1012h12v4h-12zM938,1012h4v4h-4zM958,1012h4v4h-4zM970,1012h4v4h-4zM1238,1012h4v4h-4zM818,1016h4v4h-4zM842,1016h12v4h-12zM934,1016h8v4h-8zM958,1016h16v4h-16zM1238,1016h4v4h-4zM818,1020h4v4h-4zM842,1020h4v4h-4zM850,1020h4v4h-4zM934,1020h8v4h-8zM950,1020h24v4h-24zM1238,1020h4v4h-4zM818,1024h4v4h-4zM842,1024h4v4h-4zM850,1024h4v4h-4zM862,1024h4v4h-4zM930,1024h12v4h-12zM950,1024h8v4h-8zM970,1024h4v4h-4zM1238,1024h4v4h-4zM818,1028h4v4h-4zM842,1028h4v4h-4zM850,1028h4v4h-4zM862,1028h4v4h-4zM930,1028h4v4h-4zM938,1028h4v4h-4zM950,1028h8v4h-8zM970,1028h4v4h-4zM1234,1028h8v4h-8zM818,1032h4v4h-4zM842,1032h4v4h-4zM850,1032h8v4h-8zM862,1032h4v4h-4zM926,1032h8v4h-8zM938,1032h4v4h-4zM950,1032h4v4h-4zM970,1032h4v4h-4zM1230,1032h12v4h-12zM818,1036h4v4h-4zM842,1036h4v4h-4zM854,1036h12v4h-12zM926,1036h4v4h-4zM938,1036h4v4h-4zM946,1036h8v4h-8zM970,1036h4v4h-4zM1230,1036h4v4h-4zM818,1040h4v4h-4zM842,1040h4v4h-4zM858,1040h8v4h-8zM926,1040h4v4h-4zM938,1040h4v4h-4zM946,1040h4v4h-4zM970,1040h4v4h-4zM1114,1040h4v4h-4zM1230,1040h4v4h-4zM818,1044h4v4h-4zM826,1044h4v4h-4zM842,1044h4v4h-4zM858,1044h8v4h-8zM926,1044h4v4h-4zM938,1044h4v4h-4zM946,1044h4v4h-4zM970,1044h4v4h-4zM1114,1044h8v4h-8zM1226,1044h8v4h-8zM818,1048h4v4h-4zM826,1048h4v4h-4zM842,1048h4v4h-4zM862,1048h4v4h-4zM926,1048h4v4h-4zM938,1048h4v4h-4zM946,1048h4v4h-4zM970,1048h4v4h-4zM1114,1048h8v4h-8zM1226,1048h4v4h-4zM818,1052h4v4h-4zM826,1052h8v4h-8zM842,1052h4v4h-4zM862,1052h4v4h-4zM926,1052h4v4h-4zM938,1052h4v4h-4zM946,1052h4v4h-4zM970,1052h4v4h-4zM1114,1052h12v4h-12zM1226,1052h4v4h-4zM818,1056h4v4h-4zM826,1056h8v4h-8zM842,1056h4v4h-4zM862,1056h4v4h-4zM926,1056h4v4h-4zM938,1056h4v4h-4zM946,1056h4v4h-4zM970,1056h4v4h-4zM1114,1056h4v4h-4zM1122,1056h4v4h-4zM1226,1056h4v4h-4zM818,1060h4v4h-4zM826,1060h8v4h-8zM842,1060h4v4h-4zM862,1060h4v4h-4zM926,1060h4v4h-4zM938,1060h4v4h-4zM946,1060h4v4h-4zM970,1060h4v4h-4zM1114,1060h4v4h-4zM1122,1060h4v4h-4zM1222,1060h8v4h-8zM818,1064h20v4h-20zM842,1064h4v4h-4zM862,1064h4v4h-4zM882,1064h4v4h-4zM926,1064h4v4h-4zM938,1064h12v4h-12zM970,1064h4v4h-4zM1114,1064h4v4h-4zM1122,1064h4v4h-4zM1222,1064h4v4h-4zM822,1068h16v4h-16zM842,1068h4v4h-4zM862,1068h4v4h-4zM874,1068h4v4h-4zM882,1068h4v4h-4zM926,1068h4v4h-4zM938,1068h8v4h-8zM970,1068h4v4h-4zM1114,1068h4v4h-4zM1122,1068h4v4h-4zM1222,1068h4v4h-4zM822,1072h16v4h-16zM842,1072h4v4h-4zM862,1072h4v4h-4zM874,1072h4v4h-4zM882,1072h4v4h-4zM890,1072h4v4h-4zM926,1072h4v4h-4zM938,1072h8v4h-8zM970,1072h4v4h-4zM1114,1072h4v4h-4zM1122,1072h8v4h-8zM1218,1072h8v4h-8zM822,1076h16v4h-16zM842,1076h4v4h-4zM862,1076h4v4h-4zM870,1076h16v4h-16zM890,1076h12v4h-12zM926,1076h4v4h-4zM938,1076h8v4h-8zM970,1076h4v4h-4zM1114,1076h4v4h-4zM1126,1076h4v4h-4zM1218,1076h4v4h-4zM822,1080h16v4h-16zM842,1080h4v4h-4zM862,1080h4v4h-4zM870,1080h4v4h-4zM878,1080h8v4h-8zM890,1080h16v4h-16zM914,1080h8v4h-8zM926,1080h4v4h-4zM938,1080h8v4h-8zM970,1080h4v4h-4zM1098,1080h4v4h-4zM1114,1080h4v4h-4zM1126,1080h8v4h-8zM1214,1080h8v4h-8zM822,1084h16v4h-16zM842,1084h4v4h-4zM862,1084h4v4h-4zM870,1084h4v4h-4zM878,1084h8v4h-8zM890,1084h4v4h-4zM902,1084h8v4h-8zM914,1084h16v4h-16zM938,1084h8v4h-8zM970,1084h4v4h-4zM1098,1084h4v4h-4zM1110,1084h8v4h-8zM1130,1084h4v4h-4zM1150,1084h4v4h-4zM1214,1084h4v4h-4zM822,1088h16v4h-16zM842,1088h4v4h-4zM862,1088h4v4h-4zM870,1088h4v4h-4zM882,1088h4v4h-4zM890,1088h4v4h-4zM906,1088h12v4h-12zM922,1088h8v4h-8zM942,1088h4v4h-4zM970,1088h4v4h-4zM1094,1088h8v4h-8zM1110,1088h8v4h-8zM1130,1088h4v4h-4zM1150,1088h8v4h-8zM1214,1088h4v4h-4zM822,1092h16v4h-16zM842,1092h4v4h-4zM862,1092h4v4h-4zM870,1092h4v4h-4zM882,1092h4v4h-4zM890,1092h4v4h-4zM910,1092h8v4h-8zM942,1092h4v4h-4zM970,1092h4v4h-4zM1066,1092h4v4h-4zM1094,1092h8v4h-8zM1110,1092h4v4h-4zM1130,1092h4v4h-4zM1150,1092h8v4h-8zM1210,1092h8v4h-8zM822,1096h16v4h-16zM842,1096h4v4h-4zM862,1096h4v4h-4zM870,1096h4v4h-4zM882,1096h4v4h-4zM890,1096h4v4h-4zM910,1096h4v4h-4zM970,1096h4v4h-4zM1066,1096h4v4h-4zM1094,1096h8v4h-8zM1110,1096h4v4h-4zM1130,1096h4v4h-4zM1150,1096h8v4h-8zM1210,1096h4v4h-4zM822,1100h16v4h-16zM842,1100h4v4h-4zM862,1100h4v4h-4zM870,1100h4v4h-4zM882,1100h4v4h-4zM890,1100h4v4h-4zM970,1100h4v4h-4zM978,1100h4v4h-4zM1066,1100h8v4h-8zM1090,1100h12v4h-12zM1110,1100h4v4h-4zM1130,1100h4v4h-4zM1150,1100h8v4h-8zM1206,1100h8v4h-8zM822,1104h16v4h-16zM842,1104h4v4h-4zM862,1104h4v4h-4zM870,1104h4v4h-4zM882,1104h4v4h-4zM890,1104h4v4h-4zM970,1104h4v4h-4zM978,1104h4v4h-4zM1066,1104h8v4h-8zM1086,1104h8v4h-8zM1098,1104h4v4h-4zM1106,1104h8v4h-8zM1130,1104h4v4h-4zM1150,1104h8v4h-8zM1206,1104h4v4h-4zM822,1108h16v4h-16zM842,1108h4v4h-4zM862,1108h4v4h-4zM870,1108h4v4h-4zM882,1108h12v4h-12zM970,1108h12v4h-12zM1066,1108h8v4h-8zM1086,1108h8v4h-8zM1098,1108h4v4h-4zM1106,1108h4v4h-4zM1130,1108h8v4h-8zM1150,1108h16v4h-16zM1206,1108h4v4h-4zM822,1112h4v4h-4zM830,1112h8v4h-8zM842,1112h4v4h-4zM862,1112h4v4h-4zM870,1112h4v4h-4zM882,1112h8v4h-8zM970,1112h12v4h-12zM1066,1112h8v4h-8zM1086,1112h4v4h-4zM1098,1112h4v4h-4zM1106,1112h4v4h-4zM1134,1112h4v4h-4zM1150,1112h20v4h-20zM1206,1112h4v4h-4zM822,1116h4v4h-4zM830,1116h8v4h-8zM842,1116h4v4h-4zM862,1116h4v4h-4zM870,1116h4v4h-4zM970,1116h12v4h-12zM1066,1116h8v4h-8zM1082,1116h8v4h-8zM1098,1116h4v4h-4zM1106,1116h4v4h-4zM1134,1116h8v4h-8zM1150,1116h4v4h-4zM1166,1116h8v4h-8zM1206,1116h4v4h-4zM822,1120h4v4h-4zM830,1120h8v4h-8zM842,1120h4v4h-4zM862,1120h4v4h-4zM870,1120h4v4h-4zM970,1120h12v4h-12zM1062,1120h12v4h-12zM1082,1120h4v4h-4zM1098,1120h4v4h-4zM1106,1120h4v4h-4zM1134,1120h8v4h-8zM1150,1120h4v4h-4zM1170,1120h8v4h-8zM1206,1120h4v4h-4zM830,1124h8v4h-8zM842,1124h4v4h-4zM862,1124h12v4h-12zM970,1124h16v4h-16zM1062,1124h4v4h-4zM1070,1124h4v4h-4zM1078,1124h8v4h-8zM1098,1124h4v4h-4zM1106,1124h4v4h-4zM1138,1124h4v4h-4zM1150,1124h4v4h-4zM1174,1124h4v4h-4zM1206,1124h4v4h-4zM830,1128h8v4h-8zM842,1128h4v4h-4zM862,1128h12v4h-12zM970,1128h16v4h-16zM1062,1128h4v4h-4zM1070,1128h4v4h-4zM1078,1128h4v4h-4zM1098,1128h12v4h-12zM1138,1128h4v4h-4zM1150,1128h4v4h-4zM1174,1128h4v4h-4zM1206,1128h4v4h-4zM830,1132h16v4h-16zM862,1132h8v4h-8zM970,1132h8v4h-8zM982,1132h4v4h-4zM1062,1132h4v4h-4zM1070,1132h4v4h-4zM1078,1132h4v4h-4zM1098,1132h8v4h-8zM1138,1132h4v4h-4zM1150,1132h4v4h-4zM1174,1132h4v4h-4zM1206,1132h4v4h-4zM830,1136h16v4h-16zM862,1136h8v4h-8zM970,1136h8v4h-8zM982,1136h8v4h-8zM1062,1136h4v4h-4zM1070,1136h12v4h-12zM1098,1136h8v4h-8zM1138,1136h4v4h-4zM1150,1136h4v4h-4zM1174,1136h8v4h-8zM1206,1136h4v4h-4zM830,1140h16v4h-16zM862,1140h8v4h-8zM970,1140h8v4h-8zM982,1140h16v4h-16zM1046,1140h4v4h-4zM1062,1140h4v4h-4zM1070,1140h8v4h-8zM1098,1140h8v4h-8zM1138,1140h4v4h-4zM1150,1140h4v4h-4zM1178,1140h8v4h-8zM1206,1140h4v4h-4zM830,1144h16v4h-16zM862,1144h8v4h-8zM970,1144h8v4h-8zM990,1144h12v4h-12zM1046,1144h4v4h-4zM1062,1144h4v4h-4zM1070,1144h8v4h-8zM1098,1144h8v4h-8zM1138,1144h4v4h-4zM1150,1144h4v4h-4zM1182,1144h4v4h-4zM1206,1144h4v4h-4zM830,1148h16v4h-16zM862,1148h8v4h-8zM970,1148h8v4h-8zM998,1148h4v4h-4zM1046,1148h4v4h-4zM1058,1148h8v4h-8zM1070,1148h8v4h-8zM1098,1148h8v4h-8zM1138,1148h4v4h-4zM1150,1148h4v4h-4zM1182,1148h4v4h-4zM1206,1148h4v4h-4zM830,1152h16v4h-16zM862,1152h8v4h-8zM970,1152h8v4h-8zM998,1152h4v4h-4zM1042,1152h8v4h-8zM1058,1152h4v4h-4zM1070,1152h8v4h-8zM1098,1152h8v4h-8zM1138,1152h4v4h-4zM1150,1152h4v4h-4zM1182,1152h4v4h-4zM1206,1152h4v4h-4zM838,1156h8v4h-8zM862,1156h8v4h-8zM970,1156h8v4h-8zM998,1156h4v4h-4zM1042,1156h8v4h-8zM1058,1156h4v4h-4zM1074,1156h4v4h-4zM1102,1156h4v4h-4zM1138,1156h4v4h-4zM1150,1156h4v4h-4zM1182,1156h4v4h-4zM1206,1156h4v4h-4zM838,1160h8v4h-8zM866,1160h4v4h-4zM970,1160h8v4h-8zM998,1160h4v4h-4zM1042,1160h8v4h-8zM1058,1160h4v4h-4zM1074,1160h4v4h-4zM1102,1160h4v4h-4zM1138,1160h4v4h-4zM1150,1160h4v4h-4zM1182,1160h4v4h-4zM1206,1160h4v4h-4zM838,1164h4v4h-4zM866,1164h4v4h-4zM970,1164h4v4h-4zM998,1164h4v4h-4zM1042,1164h12v4h-12zM1058,1164h4v4h-4zM1102,1164h4v4h-4zM1138,1164h4v4h-4zM1150,1164h4v4h-4zM1182,1164h4v4h-4zM1202,1164h8v4h-8zM838,1168h4v4h-4zM866,1168h4v4h-4zM998,1168h4v4h-4zM1038,1168h8v4h-8zM1050,1168h4v4h-4zM1058,1168h4v4h-4zM1102,1168h4v4h-4zM1138,1168h4v4h-4zM1150,1168h4v4h-4zM1182,1168h4v4h-4zM1202,1168h8v4h-8zM838,1172h4v4h-4zM866,1172h4v4h-4zM998,1172h4v4h-4zM1038,1172h4v4h-4zM1050,1172h4v4h-4zM1058,1172h4v4h-4zM1102,1172h4v4h-4zM1138,1172h4v4h-4zM1146,1172h8v4h-8zM1182,1172h12v4h-12zM1202,1172h4v4h-4zM838,1176h4v4h-4zM866,1176h4v4h-4zM998,1176h4v4h-4zM1038,1176h4v4h-4zM1050,1176h12v4h-12zM1102,1176h4v4h-4zM1138,1176h4v4h-4zM1146,1176h8v4h-8zM1182,1176h12v4h-12zM1202,1176h4v4h-4zM838,1180h4v4h-4zM866,1180h4v4h-4zM998,1180h4v4h-4zM1034,1180h8v4h-8zM1054,1180h4v4h-4zM1102,1180h4v4h-4zM1138,1180h4v4h-4zM1146,1180h4v4h-4zM1190,1180h4v4h-4zM1202,1180h4v4h-4zM838,1184h4v4h-4zM998,1184h4v4h-4zM1030,1184h8v4h-8zM1054,1184h4v4h-4zM1138,1184h4v4h-4zM1146,1184h4v4h-4zM1190,1184h4v4h-4zM1198,1184h8v4h-8zM838,1188h4v4h-4zM998,1188h4v4h-4zM1026,1188h8v4h-8zM1138,1188h4v4h-4zM1146,1188h4v4h-4zM1190,1188h12v4h-12zM838,1192h4v4h-4zM998,1192h8v4h-8zM1010,1192h4v4h-4zM1022,1192h8v4h-8zM1138,1192h12v4h-12zM1194,1192h8v4h-8zM838,1196h4v4h-4zM998,1196h8v4h-8zM1010,1196h8v4h-8zM1022,1196h4v4h-4zM1138,1196h8v4h-8zM1194,1196h4v4h-4zM838,1200h4v4h-4zM1002,1200h16v4h-16zM1022,1200h4v4h-4zM1138,1200h8v4h-8zM838,1204h4v4h-4zM1002,1204h8v4h-8zM1014,1204h12v4h-12zM1138,1204h8v4h-8zM838,1208h4v4h-4zM1002,1208h8v4h-8zM1014,1208h12v4h-12zM1142,1208h4v4h-4zM1002,1212h4v4h-4zM1142,1212h4v4h-4z" fill="#3581c8"/>
<path d="M2062,540h4v4h-4zM2078,524h4v4h-4zM2062,524h4v4h-4zM2062,556h4v4h-4zM2066,540h4v4h-4zM2078,528h4v4h-4zM2066,528h4v4h-4zM2066,552h4v4h-4zM2070,540h4v4h-4zM2078,532h4v4h-4zM2070,532h4v4h-4zM2070,548h4v4h-4zM2074,540h4v4h-4zM2078,536h4v4h-4zM2074,536h4v4h-4zM2074,544h4v4h-4zM2078,540h4v4h-4zM2082,540h4v4h-4zM2078,544h4v4h-4zM2082,544h4v4h-4zM2082,536h4v4h-4zM2086,540h4v4h-4zM2078,548h4v4h-4zM2086,548h4v4h-4zM2086,532h4v4h-4zM2090,540h4v4h-4zM2078,552h4v4h-4zM2090,552h4v4h-4zM2090,528h4v4h-4zM2094,540h4v4h-4zM2078,556h4v4h-4zM2094,556h4v4h-4zM2094,524h4v4h-4zM2074,536h12v12h-12z" fill="#e8322a"/>
<rect x="248" y="310" width="1984" height="928" fill="none" stroke="#1a1a1a" stroke-width="4"/>
<path d="M110,296h16v4h-16zM138,296h16v4h-16zM166,296h16v4h-16zM194,296h16v4h-16zM106,300h8v4h-8zM122,300h8v4h-8zM134,300h8v4h-8zM150,300h8v4h-8zM162,300h8v4h-8zM178,300h8v4h-8zM190,300h8v4h-8zM206,300h8v4h-8zM122,304h8v4h-8zM134,304h8v4h-8zM150,304h8v4h-8zM162,304h8v4h-8zM178,304h8v4h-8zM190,304h8v4h-8zM206,304h8v4h-8zM114,308h12v4h-12zM134,308h8v4h-8zM146,308h12v4h-12zM162,308h8v4h-8zM174,308h12v4h-12zM190,308h8v4h-8zM202,308h12v4h-12zM122,312h8v4h-8zM134,312h12v4h-12zM150,312h8v4h-8zM162,312h12v4h-12zM178,312h8v4h-8zM190,312h12v4h-12zM206,312h8v4h-8zM122,316h8v4h-8zM134,316h8v4h-8zM150,316h8v4h-8zM162,316h8v4h-8zM178,316h8v4h-8zM190,316h8v4h-8zM206,316h8v4h-8zM106,320h8v4h-8zM122,320h8v4h-8zM134,320h8v4h-8zM150,320h8v4h-8zM162,320h8v4h-8zM178,320h8v4h-8zM190,320h8v4h-8zM206,320h8v4h-8zM110,324h16v4h-16zM138,324h16v4h-16zM166,324h16v4h-16zM194,324h16v4h-16zM110,372h16v4h-16zM138,372h16v4h-16zM166,372h16v4h-16zM194,372h16v4h-16zM106,376h8v4h-8zM122,376h8v4h-8zM134,376h8v4h-8zM150,376h8v4h-8zM162,376h8v4h-8zM178,376h8v4h-8zM190,376h8v4h-8zM206,376h8v4h-8zM106,380h8v4h-8zM122,380h8v4h-8zM134,380h8v4h-8zM150,380h8v4h-8zM162,380h8v4h-8zM178,380h8v4h-8zM190,380h8v4h-8zM206,380h8v4h-8zM122,384h8v4h-8zM134,384h8v4h-8zM146,384h12v4h-12zM162,384h8v4h-8zM174,384h12v4h-12zM190,384h8v4h-8zM202,384h12v4h-12zM114,388h12v4h-12zM134,388h12v4h-12zM150,388h8v4h-8zM162,388h12v4h-12zM178,388h8v4h-8zM190,388h12v4h-12zM206,388h8v4h-8zM110,392h8v4h-8zM134,392h8v4h-8zM150,392h8v4h-8zM162,392h8v4h-8zM178,392h8v4h-8zM190,392h8v4h-8zM206,392h8v4h-8zM106,396h8v4h-8zM134,396h8v4h-8zM150,396h8v4h-8zM162,396h8v4h-8zM178,396h8v4h-8zM190,396h8v4h-8zM206,396h8v4h-8zM106,400h24v4h-24zM138,400h16v4h-16zM166,400h16v4h-16zM194,400h16v4h-16zM114,500h8v4h-8zM138,500h16v4h-16zM166,500h16v4h-16zM194,500h16v4h-16zM110,504h12v4h-12zM134,504h8v4h-8zM150,504h8v4h-8zM162,504h8v4h-8zM178,504h8v4h-8zM190,504h8v4h-8zM206,504h8v4h-8zM106,508h4v4h-4zM114,508h8v4h-8zM134,508h8v4h-8zM150,508h8v4h-8zM162,508h8v4h-8zM178,508h8v4h-8zM190,508h8v4h-8zM206,508h8v4h-8zM114,512h8v4h-8zM134,512h8v4h-8zM146,512h12v4h-12zM162,512h8v4h-8zM174,512h12v4h-12zM190,512h8v4h-8zM202,512h12v4h-12zM114,516h8v4h-8zM134,516h12v4h-12zM150,516h8v4h-8zM162,516h12v4h-12zM178,516h8v4h-8zM190,516h12v4h-12zM206,516h8v4h-8zM114,520h8v4h-8zM134,520h8v4h-8zM150,520h8v4h-8zM162,520h8v4h-8zM178,520h8v4h-8zM190,520h8v4h-8zM206,520h8v4h-8zM114,524h8v4h-8zM134,524h8v4h-8zM150,524h8v4h-8zM162,524h8v4h-8zM178,524h8v4h-8zM190,524h8v4h-8zM206,524h8v4h-8zM106,528h24v4h-24zM138,528h16v4h-16zM166,528h16v4h-16zM194,528h16v4h-16zM142,924h8v4h-8zM166,924h16v4h-16zM194,924h16v4h-16zM138,928h12v4h-12zM162,928h8v4h-8zM178,928h8v4h-8zM190,928h8v4h-8zM206,928h8v4h-8zM134,932h4v4h-4zM142,932h8v4h-8zM162,932h8v4h-8zM178,932h8v4h-8zM190,932h8v4h-8zM206,932h8v4h-8zM142,936h8v4h-8zM162,936h8v4h-8zM174,936h12v4h-12zM190,936h8v4h-8zM202,936h12v4h-12zM142,940h8v4h-8zM162,940h12v4h-12zM178,940h8v4h-8zM190,940h12v4h-12zM206,940h8v4h-8zM142,944h8v4h-8zM162,944h8v4h-8zM178,944h8v4h-8zM190,944h8v4h-8zM206,944h8v4h-8zM142,948h8v4h-8zM162,948h8v4h-8zM178,948h8v4h-8zM190,948h8v4h-8zM206,948h8v4h-8zM134,952h24v4h-24zM166,952h16v4h-16zM194,952h16v4h-16zM166,1224h16v4h-16zM194,1224h16v4h-16zM162,1228h8v4h-8zM178,1228h8v4h-8zM190,1228h8v4h-8zM206,1228h8v4h-8zM162,1232h8v4h-8zM178,1232h8v4h-8zM190,1232h8v4h-8zM206,1232h8v4h-8zM178,1236h8v4h-8zM190,1236h8v4h-8zM202,1236h12v4h-12zM170,1240h12v4h-12zM190,1240h12v4h-12zM206,1240h8v4h-8zM166,1244h8v4h-8zM190,1244h8v4h-8zM206,1244h8v4h-8zM162,1248h8v4h-8zM190,1248h8v4h-8zM206,1248h8v4h-8zM162,1252h24v4h-24zM194,1252h16v4h-16zM302,1276h16v4h-16zM626,1276h16v4h-16zM950,1276h16v4h-16zM1270,1276h16v4h-16zM1590,1276h4v4h-4zM1610,1276h4v4h-4zM1914,1276h4v4h-4zM1934,1276h4v4h-4zM298,1280h8v4h-8zM314,1280h8v4h-8zM622,1280h8v4h-8zM638,1280h8v4h-8zM946,1280h8v4h-8zM962,1280h8v4h-8zM1266,1280h8v4h-8zM1282,1280h8v4h-8zM1590,1280h8v4h-8zM1606,1280h8v4h-8zM1914,1280h8v4h-8zM1930,1280h8v4h-8zM298,1284h8v4h-8zM314,1284h8v4h-8zM326,1284h20v4h-20zM354,1284h20v4h-20zM622,1284h8v4h-8zM638,1284h8v4h-8zM650,1284h20v4h-20zM678,1284h20v4h-20zM946,1284h8v4h-8zM962,1284h8v4h-8zM974,1284h20v4h-20zM1002,1284h20v4h-20zM1266,1284h8v4h-8zM1282,1284h8v4h-8zM1294,1284h20v4h-20zM1322,1284h20v4h-20zM1590,1284h24v4h-24zM1622,1284h16v4h-16zM1646,1284h8v4h-8zM1662,1284h8v4h-8zM1914,1284h24v4h-24zM1946,1284h16v4h-16zM1970,1284h8v4h-8zM1986,1284h8v4h-8zM298,1288h8v4h-8zM314,1288h8v4h-8zM326,1288h8v4h-8zM342,1288h8v4h-8zM354,1288h8v4h-8zM370,1288h8v4h-8zM622,1288h8v4h-8zM638,1288h8v4h-8zM650,1288h8v4h-8zM666,1288h8v4h-8zM678,1288h8v4h-8zM694,1288h8v4h-8zM946,1288h8v4h-8zM962,1288h8v4h-8zM974,1288h8v4h-8zM990,1288h8v4h-8zM1002,1288h8v4h-8zM1018,1288h8v4h-8zM1266,1288h8v4h-8zM1282,1288h8v4h-8zM1294,1288h8v4h-8zM1310,1288h8v4h-8zM1322,1288h8v4h-8zM1338,1288h8v4h-8zM1590,1288h24v4h-24zM1634,1288h8v4h-8zM1646,1288h8v4h-8zM1662,1288h8v4h-8zM1914,1288h24v4h-24zM1958,1288h8v4h-8zM1970,1288h8v4h-8zM1986,1288h8v4h-8zM298,1292h24v4h-24zM326,1292h8v4h-8zM342,1292h8v4h-8zM354,1292h8v4h-8zM622,1292h24v4h-24zM650,1292h8v4h-8zM666,1292h8v4h-8zM678,1292h8v4h-8zM946,1292h24v4h-24zM974,1292h8v4h-8zM990,1292h8v4h-8zM1002,1292h8v4h-8zM1266,1292h24v4h-24zM1294,1292h8v4h-8zM1310,1292h8v4h-8zM1322,1292h8v4h-8zM1590,1292h8v4h-8zM1606,1292h8v4h-8zM1622,1292h20v4h-20zM1646,1292h8v4h-8zM1662,1292h8v4h-8zM1914,1292h8v4h-8zM1930,1292h8v4h-8zM1946,1292h20v4h-20zM1970,1292h8v4h-8zM1986,1292h8v4h-8zM298,1296h24v4h-24zM326,1296h8v4h-8zM342,1296h8v4h-8zM354,1296h8v4h-8zM622,1296h24v4h-24zM650,1296h8v4h-8zM666,1296h8v4h-8zM678,1296h8v4h-8zM946,1296h24v4h-24zM974,1296h8v4h-8zM990,1296h8v4h-8zM1002,1296h8v4h-8zM1266,1296h24v4h-24zM1294,1296h8v4h-8zM1310,1296h8v4h-8zM1322,1296h8v4h-8zM1590,1296h8v4h-8zM1606,1296h8v4h-8zM1618,1296h8v4h-8zM1634,1296h8v4h-8zM1646,1296h8v4h-8zM1662,1296h8v4h-8zM1914,1296h8v4h-8zM1930,1296h8v4h-8zM1942,1296h8v4h-8zM1958,1296h8v4h-8zM1970,1296h8v4h-8zM1986,1296h8v4h-8zM298,1300h8v4h-8zM314,1300h8v4h-8zM326,1300h20v4h-20zM354,1300h8v4h-8zM622,1300h8v4h-8zM638,1300h8v4h-8zM650,1300h20v4h-20zM678,1300h8v4h-8zM946,1300h8v4h-8zM962,1300h8v4h-8zM974,1300h20v4h-20zM1002,1300h8v4h-8zM1266,1300h8v4h-8zM1282,1300h8v4h-8zM1294,1300h20v4h-20zM1322,1300h8v4h-8zM1590,1300h8v4h-8zM1606,1300h8v4h-8zM1618,1300h8v4h-8zM1634,1300h8v4h-8zM1650,1300h20v4h-20zM1914,1300h8v4h-8zM1930,1300h8v4h-8zM1942,1300h8v4h-8zM1958,1300h8v4h-8zM1974,1300h20v4h-20zM298,1304h8v4h-8zM314,1304h8v4h-8zM326,1304h8v4h-8zM354,1304h8v4h-8zM622,1304h8v4h-8zM638,1304h8v4h-8zM650,1304h8v4h-8zM678,1304h8v4h-8zM946,1304h8v4h-8zM962,1304h8v4h-8zM974,1304h8v4h-8zM1002,1304h8v4h-8zM1266,1304h8v4h-8zM1282,1304h8v4h-8zM1294,1304h8v4h-8zM1322,1304h8v4h-8zM1590,1304h8v4h-8zM1606,1304h8v4h-8zM1622,1304h20v4h-20zM1662,1304h8v4h-8zM1914,1304h8v4h-8zM1930,1304h8v4h-8zM1946,1304h20v4h-20zM1986,1304h8v4h-8zM326,1308h8v4h-8zM650,1308h8v4h-8zM974,1308h8v4h-8zM1294,1308h8v4h-8zM1658,1308h8v4h-8zM1982,1308h8v4h-8zM326,1312h8v4h-8zM650,1312h8v4h-8zM974,1312h8v4h-8zM1294,1312h8v4h-8zM1650,1312h16v4h-16zM1974,1312h16v4h-16zM314,1328h16v4h-16zM342,1328h16v4h-16zM642,1328h8v4h-8zM666,1328h16v4h-16zM966,1328h8v4h-8zM986,1328h24v4h-24zM1282,1328h16v4h-16zM1322,1328h8v4h-8zM1606,1328h16v4h-16zM1638,1328h8v4h-8zM1930,1328h16v4h-16zM1958,1328h16v4h-16zM310,1332h8v4h-8zM326,1332h8v4h-8zM338,1332h8v4h-8zM354,1332h8v4h-8zM638,1332h12v4h-12zM662,1332h8v4h-8zM678,1332h8v4h-8zM962,1332h12v4h-12zM1002,1332h8v4h-8zM1278,1332h8v4h-8zM1294,1332h8v4h-8zM1318,1332h12v4h-12zM1602,1332h8v4h-8zM1618,1332h8v4h-8zM1634,1332h12v4h-12zM1926,1332h8v4h-8zM1942,1332h8v4h-8zM1954,1332h8v4h-8zM1970,1332h8v4h-8zM310,1336h8v4h-8zM326,1336h8v4h-8zM354,1336h8v4h-8zM634,1336h4v4h-4zM642,1336h8v4h-8zM662,1336h8v4h-8zM678,1336h8v4h-8zM958,1336h4v4h-4zM966,1336h8v4h-8zM998,1336h8v4h-8zM1278,1336h8v4h-8zM1294,1336h8v4h-8zM1314,1336h16v4h-16zM1602,1336h8v4h-8zM1618,1336h8v4h-8zM1630,1336h4v4h-4zM1638,1336h8v4h-8zM1926,1336h8v4h-8zM1942,1336h8v4h-8zM1954,1336h8v4h-8zM1970,1336h8v4h-8zM310,1340h8v4h-8zM322,1340h12v4h-12zM346,1340h12v4h-12zM642,1340h8v4h-8zM662,1340h8v4h-8zM674,1340h12v4h-12zM966,1340h8v4h-8zM998,1340h8v4h-8zM1294,1340h8v4h-8zM1310,1340h8v4h-8zM1322,1340h8v4h-8zM1602,1340h8v4h-8zM1614,1340h12v4h-12zM1638,1340h8v4h-8zM1926,1340h8v4h-8zM1938,1340h12v4h-12zM1958,1340h16v4h-16zM310,1344h12v4h-12zM326,1344h8v4h-8zM354,1344h8v4h-8zM642,1344h8v4h-8zM662,1344h12v4h-12zM678,1344h8v4h-8zM966,1344h8v4h-8zM994,1344h8v4h-8zM1286,1344h12v4h-12zM1306,1344h8v4h-8zM1322,1344h8v4h-8zM1602,1344h12v4h-12zM1618,1344h8v4h-8zM1638,1344h8v4h-8zM1926,1344h12v4h-12zM1942,1344h8v4h-8zM1954,1344h8v4h-8zM1970,1344h8v4h-8zM310,1348h8v4h-8zM326,1348h8v4h-8zM354,1348h8v4h-8zM642,1348h8v4h-8zM662,1348h8v4h-8zM678,1348h8v4h-8zM966,1348h8v4h-8zM994,1348h8v4h-8zM1282,1348h8v4h-8zM1306,1348h24v4h-24zM1602,1348h8v4h-8zM1618,1348h8v4h-8zM1638,1348h8v4h-8zM1926,1348h8v4h-8zM1942,1348h8v4h-8zM1954,1348h8v4h-8zM1970,1348h8v4h-8zM310,1352h8v4h-8zM326,1352h8v4h-8zM338,1352h8v4h-8zM354,1352h8v4h-8zM642,1352h8v4h-8zM662,1352h8v4h-8zM678,1352h8v4h-8zM966,1352h8v4h-8zM990,1352h8v4h-8zM1278,1352h8v4h-8zM1322,1352h8v4h-8zM1602,1352h8v4h-8zM1618,1352h8v4h-8zM1638,1352h8v4h-8zM1926,1352h8v4h-8zM1942,1352h8v4h-8zM1954,1352h8v4h-8zM1970,1352h8v4h-8zM314,1356h16v4h-16zM342,1356h16v4h-16zM634,1356h24v4h-24zM666,1356h16v4h-16zM958,1356h24v4h-24zM990,1356h8v4h-8zM1278,1356h24v4h-24zM1322,1356h8v4h-8zM1606,1356h16v4h-16zM1630,1356h24v4h-24zM1930,1356h16v4h-16zM1958,1356h16v4h-16zM286,1380h16v4h-16zM314,1380h16v4h-16zM342,1380h16v4h-16zM374,1380h8v4h-8zM610,1380h16v4h-16zM638,1380h16v4h-16zM666,1380h16v4h-16zM698,1380h8v4h-8zM934,1380h16v4h-16zM962,1380h16v4h-16zM990,1380h16v4h-16zM1022,1380h8v4h-8zM1254,1380h16v4h-16zM1282,1380h16v4h-16zM1310,1380h16v4h-16zM1342,1380h8v4h-8zM1578,1380h16v4h-16zM1606,1380h16v4h-16zM1634,1380h16v4h-16zM1666,1380h8v4h-8zM1902,1380h16v4h-16zM1930,1380h16v4h-16zM1958,1380h16v4h-16zM1990,1380h8v4h-8zM282,1384h8v4h-8zM298,1384h8v4h-8zM310,1384h8v4h-8zM326,1384h8v4h-8zM338,1384h8v4h-8zM354,1384h8v4h-8zM370,1384h12v4h-12zM606,1384h8v4h-8zM622,1384h8v4h-8zM634,1384h8v4h-8zM650,1384h8v4h-8zM662,1384h8v4h-8zM678,1384h8v4h-8zM694,1384h12v4h-12zM930,1384h8v4h-8zM946,1384h8v4h-8zM958,1384h8v4h-8zM974,1384h8v4h-8zM986,1384h8v4h-8zM1002,1384h8v4h-8zM1018,1384h12v4h-12zM1250,1384h8v4h-8zM1266,1384h8v4h-8zM1278,1384h8v4h-8zM1294,1384h8v4h-8zM1306,1384h8v4h-8zM1322,1384h8v4h-8zM1338,1384h12v4h-12zM1574,1384h8v4h-8zM1590,1384h8v4h-8zM1602,1384h8v4h-8zM1618,1384h8v4h-8zM1630,1384h8v4h-8zM1646,1384h8v4h-8zM1662,1384h12v4h-12zM1898,1384h8v4h-8zM1914,1384h8v4h-8zM1926,1384h8v4h-8zM1942,1384h8v4h-8zM1954,1384h8v4h-8zM1970,1384h8v4h-8zM1986,1384h12v4h-12zM282,1388h8v4h-8zM298,1388h8v4h-8zM310,1388h8v4h-8zM326,1388h8v4h-8zM338,1388h8v4h-8zM354,1388h8v4h-8zM366,1388h4v4h-4zM374,1388h8v4h-8zM606,1388h8v4h-8zM622,1388h8v4h-8zM634,1388h8v4h-8zM650,1388h8v4h-8zM662,1388h8v4h-8zM678,1388h8v4h-8zM690,1388h4v4h-4zM698,1388h8v4h-8zM930,1388h8v4h-8zM946,1388h8v4h-8zM958,1388h8v4h-8zM974,1388h8v4h-8zM986,1388h8v4h-8zM1002,1388h8v4h-8zM1014,1388h4v4h-4zM1022,1388h8v4h-8zM1250,1388h8v4h-8zM1266,1388h8v4h-8zM1278,1388h8v4h-8zM1294,1388h8v4h-8zM1306,1388h8v4h-8zM1322,1388h8v4h-8zM1334,1388h4v4h-4zM1342,1388h8v4h-8zM1574,1388h8v4h-8zM1590,1388h8v4h-8zM1602,1388h8v4h-8zM1618,1388h8v4h-8zM1630,1388h8v4h-8zM1646,1388h8v4h-8zM1658,1388h4v4h-4zM1666,1388h8v4h-8zM1898,1388h8v4h-8zM1914,1388h8v4h-8zM1926,1388h8v4h-8zM1942,1388h8v4h-8zM1954,1388h8v4h-8zM1970,1388h8v4h-8zM1982,1388h4v4h-4zM1990,1388h8v4h-8zM298,1392h8v4h-8zM310,1392h8v4h-8zM322,1392h12v4h-12zM354,1392h8v4h-8zM374,1392h8v4h-8zM622,1392h8v4h-8zM634,1392h8v4h-8zM646,1392h12v4h-12zM678,1392h8v4h-8zM698,1392h8v4h-8zM946,1392h8v4h-8zM958,1392h8v4h-8zM970,1392h12v4h-12zM1002,1392h8v4h-8zM1022,1392h8v4h-8zM1266,1392h8v4h-8zM1278,1392h8v4h-8zM1290,1392h12v4h-12zM1322,1392h8v4h-8zM1342,1392h8v4h-8zM1590,1392h8v4h-8zM1602,1392h8v4h-8zM1614,1392h12v4h-12zM1646,1392h8v4h-8zM1666,1392h8v4h-8zM1914,1392h8v4h-8zM1926,1392h8v4h-8zM1938,1392h12v4h-12zM1970,1392h8v4h-8zM1990,1392h8v4h-8zM290,1396h12v4h-12zM310,1396h12v4h-12zM326,1396h8v4h-8zM346,1396h12v4h-12zM374,1396h8v4h-8zM614,1396h12v4h-12zM634,1396h12v4h-12zM650,1396h8v4h-8zM670,1396h12v4h-12zM698,1396h8v4h-8zM938,1396h12v4h-12zM958,1396h12v4h-12zM974,1396h8v4h-8zM994,1396h12v4h-12zM1022,1396h8v4h-8zM1258,1396h12v4h-12zM1278,1396h12v4h-12zM1294,1396h8v4h-8zM1314,1396h12v4h-12zM1342,1396h8v4h-8zM1582,1396h12v4h-12zM1602,1396h12v4h-12zM1618,1396h8v4h-8zM1638,1396h12v4h-12zM1666,1396h8v4h-8zM1906,1396h12v4h-12zM1926,1396h12v4h-12zM1942,1396h8v4h-8zM1962,1396h12v4h-12zM1990,1396h8v4h-8zM286,1400h8v4h-8zM310,1400h8v4h-8zM326,1400h8v4h-8zM342,1400h8v4h-8zM374,1400h8v4h-8zM610,1400h8v4h-8zM634,1400h8v4h-8zM650,1400h8v4h-8zM666,1400h8v4h-8zM698,1400h8v4h-8zM934,1400h8v4h-8zM958,1400h8v4h-8zM974,1400h8v4h-8zM990,1400h8v4h-8zM1022,1400h8v4h-8zM1254,1400h8v4h-8zM1278,1400h8v4h-8zM1294,1400h8v4h-8zM1310,1400h8v4h-8zM1342,1400h8v4h-8zM1578,1400h8v4h-8zM1602,1400h8v4h-8zM1618,1400h8v4h-8zM1634,1400h8v4h-8zM1666,1400h8v4h-8zM1902,1400h8v4h-8zM1926,1400h8v4h-8zM1942,1400h8v4h-8zM1958,1400h8v4h-8zM1990,1400h8v4h-8zM282,1404h8v4h-8zM310,1404h8v4h-8zM326,1404h8v4h-8zM338,1404h8v4h-8zM374,1404h8v4h-8zM606,1404h8v4h-8zM634,1404h8v4h-8zM650,1404h8v4h-8zM662,1404h8v4h-8zM698,1404h8v4h-8zM930,1404h8v4h-8zM958,1404h8v4h-8zM974,1404h8v4h-8zM986,1404h8v4h-8zM1022,1404h8v4h-8zM1250,1404h8v4h-8zM1278,1404h8v4h-8zM1294,1404h8v4h-8zM1306,1404h8v4h-8zM1342,1404h8v4h-8zM1574,1404h8v4h-8zM1602,1404h8v4h-8zM1618,1404h8v4h-8zM1630,1404h8v4h-8zM1666,1404h8v4h-8zM1898,1404h8v4h-8zM1926,1404h8v4h-8zM1942,1404h8v4h-8zM1954,1404h8v4h-8zM1990,1404h8v4h-8zM282,1408h24v4h-24zM314,1408h16v4h-16zM338,1408h24v4h-24zM366,1408h24v4h-24zM606,1408h24v4h-24zM638,1408h16v4h-16zM662,1408h24v4h-24zM690,1408h24v4h-24zM930,1408h24v4h-24zM962,1408h16v4h-16zM986,1408h24v4h-24zM1014,1408h24v4h-24zM1250,1408h24v4h-24zM1282,1408h16v4h-16zM1306,1408h24v4h-24zM1334,1408h24v4h-24zM1574,1408h24v4h-24zM1606,1408h16v4h-16zM1630,1408h24v4h-24zM1658,1408h24v4h-24zM1898,1408h24v4h-24zM1930,1408h16v4h-16zM1954,1408h24v4h-24zM1982,1408h24v4h-24z" fill="#000"/>
<path d="M34,344h36v4h-36zM34,348h36v4h-36zM46,352h4v4h-4zM66,352h4v4h-4zM46,356h4v4h-4zM66,356h4v4h-4zM46,360h24v4h-24zM50,364h16v4h-16zM50,372h20v4h-20zM46,376h24v4h-24zM46,380h4v4h-4zM46,384h4v4h-4zM46,388h24v4h-24zM46,392h24v4h-24zM50,400h16v4h-16zM46,404h24v4h-24zM46,408h4v4h-4zM66,408h4v4h-4zM46,412h4v4h-4zM66,412h4v4h-4zM46,416h24v4h-24zM50,420h16v4h-16zM50,428h4v4h-4zM62,428h4v4h-4zM46,432h8v4h-8zM62,432h8v4h-8zM46,436h4v4h-4zM66,436h4v4h-4zM46,440h4v4h-4zM66,440h4v4h-4zM46,444h24v4h-24zM50,448h16v4h-16zM50,456h8v4h-8zM62,456h4v4h-4zM46,460h12v4h-12zM62,460h8v4h-8zM46,464h4v4h-4zM54,464h4v4h-4zM66,464h4v4h-4zM46,468h4v4h-4zM54,468h4v4h-4zM66,468h4v4h-4zM46,472h24v4h-24zM50,476h16v4h-16zM50,484h4v4h-4zM58,484h8v4h-8zM46,488h8v4h-8zM58,488h12v4h-12zM46,492h4v4h-4zM54,492h8v4h-8zM66,492h4v4h-4zM46,496h4v4h-4zM54,496h4v4h-4zM66,496h4v4h-4zM46,500h12v4h-12zM62,500h8v4h-8zM50,504h4v4h-4zM62,504h4v4h-4zM50,540h4v4h-4zM46,544h8v4h-8zM46,548h4v4h-4zM46,552h4v4h-4zM46,556h24v4h-24zM46,560h24v4h-24zM50,568h8v4h-8zM62,568h4v4h-4zM46,572h12v4h-12zM62,572h8v4h-8zM46,576h4v4h-4zM54,576h4v4h-4zM66,576h4v4h-4zM46,580h4v4h-4zM54,580h4v4h-4zM66,580h4v4h-4zM46,584h24v4h-24zM50,588h16v4h-16zM50,596h12v4h-12zM46,600h20v4h-20zM46,604h4v4h-4zM62,604h4v4h-4zM46,608h4v4h-4zM62,608h4v4h-4zM46,612h32v4h-32zM46,616h32v4h-32zM62,652h4v4h-4zM46,656h4v4h-4zM62,656h8v4h-8zM46,660h4v4h-4zM66,660h4v4h-4zM38,664h32v4h-32zM38,668h28v4h-28zM46,672h4v4h-4zM50,680h8v4h-8zM62,680h4v4h-4zM46,684h12v4h-12zM62,684h8v4h-8zM46,688h4v4h-4zM54,688h4v4h-4zM66,688h4v4h-4zM46,692h4v4h-4zM54,692h4v4h-4zM66,692h4v4h-4zM46,696h24v4h-24zM50,700h16v4h-16zM50,708h8v4h-8zM62,708h4v4h-4zM46,712h12v4h-12zM62,712h8v4h-8zM46,716h4v4h-4zM54,716h4v4h-4zM66,716h4v4h-4zM46,720h4v4h-4zM54,720h4v4h-4zM66,720h4v4h-4zM46,724h24v4h-24zM50,728h16v4h-16zM34,736h4v4h-4zM34,740h4v4h-4zM46,740h4v4h-4zM34,744h4v4h-4zM46,744h4v4h-4zM34,748h36v4h-36zM38,752h32v4h-32zM46,756h4v4h-4zM50,792h4v4h-4zM62,792h4v4h-4zM46,796h8v4h-8zM62,796h8v4h-8zM46,800h4v4h-4zM66,800h4v4h-4zM46,804h4v4h-4zM66,804h4v4h-4zM46,808h24v4h-24zM50,812h16v4h-16zM66,820h4v4h-4zM66,824h4v4h-4zM34,828h8v4h-8zM46,828h24v4h-24zM34,832h8v4h-8zM46,832h24v4h-24zM46,836h4v4h-4zM66,836h4v4h-4zM66,840h4v4h-4zM50,848h16v4h-16zM46,852h24v4h-24zM46,856h4v4h-4zM66,856h4v4h-4zM46,860h4v4h-4zM66,860h4v4h-4zM34,864h36v4h-36zM34,868h36v4h-36zM46,876h24v4h-24zM46,880h24v4h-24zM66,884h4v4h-4zM66,888h4v4h-4zM46,892h24v4h-24zM46,896h20v4h-20zM50,904h4v4h-4zM62,904h4v4h-4zM46,908h8v4h-8zM62,908h8v4h-8zM46,912h4v4h-4zM66,912h4v4h-4zM46,916h4v4h-4zM66,916h4v4h-4zM46,920h24v4h-24zM50,924h16v4h-16zM62,968h12v4h-12zM62,972h16v4h-16zM62,976h8v4h-8zM74,976h4v4h-4zM50,988h8v4h-8zM62,988h4v4h-4zM46,992h12v4h-12zM62,992h8v4h-8zM46,996h4v4h-4zM54,996h4v4h-4zM66,996h4v4h-4zM46,1000h4v4h-4zM54,1000h4v4h-4zM66,1000h4v4h-4zM46,1004h24v4h-24zM50,1008h16v4h-16zM46,1016h12v4h-12zM70,1016h4v4h-4zM50,1020h12v4h-12zM66,1020h12v4h-12zM46,1024h4v4h-4zM58,1024h4v4h-4zM66,1024h4v4h-4zM74,1024h4v4h-4zM46,1028h4v4h-4zM58,1028h4v4h-4zM66,1028h4v4h-4zM74,1028h4v4h-4zM46,1032h32v4h-32zM50,1036h8v4h-8zM62,1036h4v4h-4zM70,1036h4v4h-4zM50,1044h4v4h-4zM46,1048h8v4h-8zM46,1052h4v4h-4zM46,1056h4v4h-4zM46,1060h24v4h-24zM46,1064h24v4h-24zM50,1072h20v4h-20zM46,1076h24v4h-24zM46,1080h4v4h-4zM54,1080h4v4h-4zM66,1080h4v4h-4zM46,1084h4v4h-4zM54,1084h4v4h-4zM66,1084h4v4h-4zM46,1088h4v4h-4zM54,1088h16v4h-16zM58,1092h8v4h-8zM50,1100h20v4h-20zM46,1104h24v4h-24zM46,1108h4v4h-4zM46,1112h4v4h-4zM34,1116h36v4h-36zM34,1120h36v4h-36zM50,1128h4v4h-4zM62,1128h4v4h-4zM46,1132h8v4h-8zM62,1132h8v4h-8zM46,1136h4v4h-4zM66,1136h4v4h-4zM46,1140h4v4h-4zM66,1140h4v4h-4zM46,1144h24v4h-24zM50,1148h16v4h-16zM50,1156h4v4h-4zM58,1156h8v4h-8zM46,1160h8v4h-8zM58,1160h12v4h-12zM46,1164h4v4h-4zM54,1164h8v4h-8zM66,1164h4v4h-4zM46,1168h4v4h-4zM54,1168h4v4h-4zM66,1168h4v4h-4zM46,1172h12v4h-12zM62,1172h8v4h-8zM50,1176h4v4h-4zM62,1176h4v4h-4zM66,1184h4v4h-4zM66,1188h4v4h-4zM34,1192h8v4h-8zM46,1192h24v4h-24zM34,1196h8v4h-8zM46,1196h24v4h-24zM46,1200h4v4h-4zM66,1200h4v4h-4zM66,1204h4v4h-4zM42,1212h24v4h-24zM38,1216h32v4h-32zM38,1220h4v4h-4zM66,1220h4v4h-4zM38,1224h4v4h-4zM66,1224h4v4h-4zM38,1228h32v4h-32zM38,1232h32v4h-32zM386,1560h8v4h-8zM406,1560h8v4h-8zM526,1560h8v4h-8zM574,1560h8v4h-8zM594,1560h16v4h-16zM798,1560h8v4h-8zM882,1560h8v4h-8zM970,1560h8v4h-8zM1214,1560h8v4h-8zM1574,1560h8v4h-8zM1630,1560h8v4h-8zM1650,1560h8v4h-8zM1726,1560h8v4h-8zM314,1564h4v4h-4zM334,1564h4v4h-4zM386,1564h8v4h-8zM406,1564h8v4h-8zM526,1564h8v4h-8zM574,1564h8v4h-8zM602,1564h8v4h-8zM710,1564h8v4h-8zM766,1564h8v4h-8zM798,1564h8v4h-8zM850,1564h8v4h-8zM882,1564h8v4h-8zM966,1564h8v4h-8zM990,1564h16v4h-16zM1030,1564h8v4h-8zM1218,1564h8v4h-8zM1362,1564h4v4h-4zM1382,1564h4v4h-4zM1574,1564h8v4h-8zM1630,1564h8v4h-8zM1650,1564h8v4h-8zM1726,1564h8v4h-8zM314,1568h8v4h-8zM330,1568h8v4h-8zM386,1568h8v4h-8zM526,1568h8v4h-8zM602,1568h8v4h-8zM710,1568h8v4h-8zM766,1568h8v4h-8zM850,1568h8v4h-8zM962,1568h8v4h-8zM986,1568h8v4h-8zM1002,1568h8v4h-8zM1026,1568h12v4h-12zM1222,1568h8v4h-8zM1362,1568h8v4h-8zM1378,1568h8v4h-8zM1574,1568h8v4h-8zM1630,1568h8v4h-8zM1726,1568h8v4h-8zM314,1572h24v4h-24zM346,1572h16v4h-16zM374,1572h20v4h-20zM402,1572h12v4h-12zM430,1572h16v4h-16zM454,1572h20v4h-20zM514,1572h20v4h-20zM542,1572h16v4h-16zM570,1572h12v4h-12zM602,1572h8v4h-8zM622,1572h8v4h-8zM638,1572h8v4h-8zM682,1572h16v4h-16zM706,1572h20v4h-20zM738,1572h16v4h-16zM762,1572h20v4h-20zM794,1572h12v4h-12zM822,1572h16v4h-16zM846,1572h20v4h-20zM878,1572h12v4h-12zM906,1572h16v4h-16zM962,1572h8v4h-8zM1002,1572h8v4h-8zM1022,1572h16v4h-16zM1070,1572h8v4h-8zM1086,1572h8v4h-8zM1102,1572h16v4h-16zM1130,1572h16v4h-16zM1154,1572h20v4h-20zM1186,1572h16v4h-16zM1222,1572h8v4h-8zM1362,1572h24v4h-24zM1394,1572h16v4h-16zM1422,1572h16v4h-16zM1450,1572h16v4h-16zM1474,1572h8v4h-8zM1490,1572h8v4h-8zM1502,1572h20v4h-20zM1534,1572h16v4h-16zM1562,1572h20v4h-20zM1618,1572h20v4h-20zM1646,1572h12v4h-12zM1674,1572h16v4h-16zM1702,1572h16v4h-16zM1726,1572h20v4h-20zM1758,1572h16v4h-16zM1782,1572h20v4h-20zM1814,1572h12v4h-12zM1830,1572h4v4h-4zM1842,1572h16v4h-16zM314,1576h24v4h-24zM342,1576h8v4h-8zM358,1576h8v4h-8zM370,1576h8v4h-8zM386,1576h8v4h-8zM406,1576h8v4h-8zM442,1576h8v4h-8zM454,1576h8v4h-8zM470,1576h8v4h-8zM510,1576h8v4h-8zM526,1576h8v4h-8zM554,1576h8v4h-8zM574,1576h8v4h-8zM602,1576h8v4h-8zM622,1576h8v4h-8zM638,1576h8v4h-8zM678,1576h8v4h-8zM694,1576h8v4h-8zM710,1576h8v4h-8zM750,1576h8v4h-8zM766,1576h8v4h-8zM798,1576h8v4h-8zM818,1576h8v4h-8zM834,1576h8v4h-8zM850,1576h8v4h-8zM882,1576h8v4h-8zM902,1576h8v4h-8zM918,1576h8v4h-8zM962,1576h8v4h-8zM994,1576h12v4h-12zM1018,1576h8v4h-8zM1030,1576h8v4h-8zM1070,1576h8v4h-8zM1086,1576h8v4h-8zM1098,1576h8v4h-8zM1114,1576h8v4h-8zM1142,1576h8v4h-8zM1154,1576h8v4h-8zM1170,1576h8v4h-8zM1182,1576h8v4h-8zM1198,1576h8v4h-8zM1222,1576h8v4h-8zM1362,1576h24v4h-24zM1390,1576h8v4h-8zM1406,1576h8v4h-8zM1434,1576h8v4h-8zM1446,1576h8v4h-8zM1462,1576h8v4h-8zM1474,1576h8v4h-8zM1490,1576h8v4h-8zM1502,1576h8v4h-8zM1518,1576h8v4h-8zM1530,1576h8v4h-8zM1546,1576h8v4h-8zM1558,1576h8v4h-8zM1574,1576h8v4h-8zM1614,1576h8v4h-8zM1630,1576h8v4h-8zM1650,1576h8v4h-8zM1670,1576h8v4h-8zM1686,1576h8v4h-8zM1698,1576h8v4h-8zM1714,1576h8v4h-8zM1726,1576h8v4h-8zM1742,1576h8v4h-8zM1770,1576h8v4h-8zM1782,1576h8v4h-8zM1798,1576h8v4h-8zM1810,1576h8v4h-8zM1826,1576h8v4h-8zM1838,1576h8v4h-8zM1854,1576h8v4h-8zM314,1580h8v4h-8zM330,1580h8v4h-8zM342,1580h24v4h-24zM370,1580h8v4h-8zM386,1580h8v4h-8zM406,1580h8v4h-8zM430,1580h20v4h-20zM454,1580h8v4h-8zM470,1580h8v4h-8zM510,1580h8v4h-8zM526,1580h8v4h-8zM542,1580h20v4h-20zM574,1580h8v4h-8zM602,1580h8v4h-8zM622,1580h8v4h-8zM638,1580h8v4h-8zM682,1580h12v4h-12zM710,1580h8v4h-8zM738,1580h20v4h-20zM766,1580h8v4h-8zM798,1580h8v4h-8zM822,1580h12v4h-12zM850,1580h8v4h-8zM882,1580h8v4h-8zM902,1580h8v4h-8zM962,1580h8v4h-8zM1002,1580h8v4h-8zM1014,1580h8v4h-8zM1030,1580h8v4h-8zM1070,1580h8v4h-8zM1086,1580h8v4h-8zM1098,1580h24v4h-24zM1130,1580h20v4h-20zM1154,1580h8v4h-8zM1186,1580h12v4h-12zM1222,1580h8v4h-8zM1362,1580h8v4h-8zM1378,1580h8v4h-8zM1390,1580h24v4h-24zM1422,1580h20v4h-20zM1450,1580h12v4h-12zM1474,1580h8v4h-8zM1490,1580h8v4h-8zM1502,1580h8v4h-8zM1530,1580h24v4h-24zM1558,1580h8v4h-8zM1574,1580h8v4h-8zM1614,1580h8v4h-8zM1630,1580h8v4h-8zM1650,1580h8v4h-8zM1674,1580h12v4h-12zM1698,1580h8v4h-8zM1726,1580h8v4h-8zM1742,1580h8v4h-8zM1758,1580h20v4h-20zM1782,1580h8v4h-8zM1810,1580h8v4h-8zM1826,1580h8v4h-8zM1838,1580h24v4h-24zM314,1584h8v4h-8zM330,1584h8v4h-8zM342,1584h8v4h-8zM370,1584h8v4h-8zM386,1584h8v4h-8zM406,1584h8v4h-8zM426,1584h8v4h-8zM442,1584h8v4h-8zM454,1584h8v4h-8zM470,1584h8v4h-8zM510,1584h8v4h-8zM526,1584h8v4h-8zM538,1584h8v4h-8zM554,1584h8v4h-8zM574,1584h8v4h-8zM602,1584h8v4h-8zM622,1584h8v4h-8zM638,1584h8v4h-8zM690,1584h12v4h-12zM710,1584h8v4h-8zM734,1584h8v4h-8zM750,1584h8v4h-8zM766,1584h8v4h-8zM798,1584h8v4h-8zM830,1584h12v4h-12zM850,1584h8v4h-8zM882,1584h8v4h-8zM902,1584h8v4h-8zM962,1584h8v4h-8zM1002,1584h8v4h-8zM1014,1584h24v4h-24zM1070,1584h8v4h-8zM1086,1584h8v4h-8zM1098,1584h8v4h-8zM1126,1584h8v4h-8zM1142,1584h8v4h-8zM1154,1584h8v4h-8zM1194,1584h12v4h-12zM1222,1584h8v4h-8zM1362,1584h8v4h-8zM1378,1584h8v4h-8zM1390,1584h8v4h-8zM1418,1584h8v4h-8zM1434,1584h8v4h-8zM1458,1584h12v4h-12zM1474,1584h8v4h-8zM1490,1584h8v4h-8zM1502,1584h8v4h-8zM1530,1584h8v4h-8zM1558,1584h8v4h-8zM1574,1584h8v4h-8zM1614,1584h8v4h-8zM1630,1584h8v4h-8zM1650,1584h8v4h-8zM1682,1584h12v4h-12zM1698,1584h8v4h-8zM1726,1584h8v4h-8zM1742,1584h8v4h-8zM1754,1584h8v4h-8zM1770,1584h8v4h-8zM1782,1584h8v4h-8zM1814,1584h16v4h-16zM1838,1584h8v4h-8zM314,1588h8v4h-8zM330,1588h8v4h-8zM342,1588h8v4h-8zM358,1588h8v4h-8zM370,1588h8v4h-8zM386,1588h8v4h-8zM406,1588h8v4h-8zM426,1588h8v4h-8zM442,1588h8v4h-8zM454,1588h8v4h-8zM470,1588h8v4h-8zM510,1588h8v4h-8zM526,1588h8v4h-8zM538,1588h8v4h-8zM554,1588h8v4h-8zM574,1588h8v4h-8zM602,1588h8v4h-8zM626,1588h20v4h-20zM678,1588h8v4h-8zM694,1588h8v4h-8zM710,1588h8v4h-8zM722,1588h8v4h-8zM734,1588h8v4h-8zM750,1588h8v4h-8zM766,1588h8v4h-8zM778,1588h8v4h-8zM798,1588h8v4h-8zM818,1588h8v4h-8zM834,1588h8v4h-8zM850,1588h8v4h-8zM862,1588h8v4h-8zM882,1588h8v4h-8zM902,1588h8v4h-8zM918,1588h8v4h-8zM966,1588h8v4h-8zM986,1588h8v4h-8zM1002,1588h8v4h-8zM1030,1588h8v4h-8zM1074,1588h20v4h-20zM1098,1588h8v4h-8zM1114,1588h8v4h-8zM1126,1588h8v4h-8zM1142,1588h8v4h-8zM1154,1588h8v4h-8zM1182,1588h8v4h-8zM1198,1588h8v4h-8zM1218,1588h8v4h-8zM1362,1588h8v4h-8zM1378,1588h8v4h-8zM1390,1588h8v4h-8zM1406,1588h8v4h-8zM1418,1588h8v4h-8zM1434,1588h8v4h-8zM1446,1588h8v4h-8zM1462,1588h8v4h-8zM1474,1588h8v4h-8zM1490,1588h8v4h-8zM1502,1588h8v4h-8zM1530,1588h8v4h-8zM1546,1588h8v4h-8zM1558,1588h8v4h-8zM1574,1588h8v4h-8zM1614,1588h8v4h-8zM1630,1588h8v4h-8zM1650,1588h8v4h-8zM1670,1588h8v4h-8zM1686,1588h8v4h-8zM1698,1588h8v4h-8zM1714,1588h8v4h-8zM1726,1588h8v4h-8zM1742,1588h8v4h-8zM1754,1588h8v4h-8zM1770,1588h8v4h-8zM1782,1588h8v4h-8zM1810,1588h8v4h-8zM1838,1588h8v4h-8zM1854,1588h8v4h-8zM314,1592h8v4h-8zM330,1592h8v4h-8zM346,1592h16v4h-16zM374,1592h20v4h-20zM398,1592h24v4h-24zM430,1592h20v4h-20zM454,1592h8v4h-8zM470,1592h8v4h-8zM514,1592h20v4h-20zM542,1592h20v4h-20zM566,1592h24v4h-24zM594,1592h24v4h-24zM638,1592h8v4h-8zM682,1592h16v4h-16zM714,1592h12v4h-12zM738,1592h20v4h-20zM770,1592h12v4h-12zM790,1592h24v4h-24zM822,1592h16v4h-16zM854,1592h12v4h-12zM874,1592h24v4h-24zM906,1592h16v4h-16zM970,1592h8v4h-8zM990,1592h16v4h-16zM1030,1592h8v4h-8zM1086,1592h8v4h-8zM1102,1592h16v4h-16zM1130,1592h20v4h-20zM1154,1592h8v4h-8zM1186,1592h16v4h-16zM1214,1592h8v4h-8zM1362,1592h8v4h-8zM1378,1592h8v4h-8zM1394,1592h16v4h-16zM1422,1592h20v4h-20zM1450,1592h16v4h-16zM1478,1592h20v4h-20zM1502,1592h8v4h-8zM1534,1592h16v4h-16zM1562,1592h20v4h-20zM1618,1592h20v4h-20zM1642,1592h24v4h-24zM1674,1592h16v4h-16zM1702,1592h16v4h-16zM1726,1592h8v4h-8zM1742,1592h8v4h-8zM1758,1592h20v4h-20zM1782,1592h8v4h-8zM1814,1592h16v4h-16zM1842,1592h16v4h-16zM634,1596h8v4h-8zM1082,1596h8v4h-8zM1810,1596h8v4h-8zM1826,1596h8v4h-8zM626,1600h16v4h-16zM1074,1600h16v4h-16zM1814,1600h16v4h-16zM350,1624h8v4h-8zM426,1624h8v4h-8zM314,1628h20v4h-20zM350,1628h8v4h-8zM426,1628h8v4h-8zM314,1632h8v4h-8zM330,1632h8v4h-8zM426,1632h8v4h-8zM314,1636h8v4h-8zM330,1636h8v4h-8zM346,1636h12v4h-12zM374,1636h16v4h-16zM402,1636h16v4h-16zM426,1636h20v4h-20zM458,1636h16v4h-16zM482,1636h20v4h-20zM514,1636h12v4h-12zM530,1636h4v4h-4zM542,1636h16v4h-16zM314,1640h8v4h-8zM330,1640h8v4h-8zM350,1640h8v4h-8zM370,1640h8v4h-8zM386,1640h8v4h-8zM398,1640h8v4h-8zM414,1640h8v4h-8zM426,1640h8v4h-8zM442,1640h8v4h-8zM470,1640h8v4h-8zM482,1640h8v4h-8zM498,1640h8v4h-8zM510,1640h8v4h-8zM526,1640h8v4h-8zM538,1640h8v4h-8zM554,1640h8v4h-8zM314,1644h8v4h-8zM330,1644h8v4h-8zM350,1644h8v4h-8zM374,1644h12v4h-12zM398,1644h8v4h-8zM426,1644h8v4h-8zM442,1644h8v4h-8zM458,1644h20v4h-20zM482,1644h8v4h-8zM510,1644h8v4h-8zM526,1644h8v4h-8zM538,1644h24v4h-24zM314,1648h8v4h-8zM330,1648h8v4h-8zM350,1648h8v4h-8zM382,1648h12v4h-12zM398,1648h8v4h-8zM426,1648h8v4h-8zM442,1648h8v4h-8zM454,1648h8v4h-8zM470,1648h8v4h-8zM482,1648h8v4h-8zM514,1648h16v4h-16zM538,1648h8v4h-8zM314,1652h8v4h-8zM330,1652h8v4h-8zM350,1652h8v4h-8zM370,1652h8v4h-8zM386,1652h8v4h-8zM398,1652h8v4h-8zM414,1652h8v4h-8zM426,1652h8v4h-8zM442,1652h8v4h-8zM454,1652h8v4h-8zM470,1652h8v4h-8zM482,1652h8v4h-8zM510,1652h8v4h-8zM538,1652h8v4h-8zM554,1652h8v4h-8zM314,1656h20v4h-20zM342,1656h24v4h-24zM374,1656h16v4h-16zM402,1656h16v4h-16zM426,1656h8v4h-8zM442,1656h8v4h-8zM458,1656h20v4h-20zM482,1656h8v4h-8zM514,1656h16v4h-16zM542,1656h16v4h-16zM510,1660h8v4h-8zM526,1660h8v4h-8zM514,1664h16v4h-16z" fill="#000"/>
<path d="M854,1452h8v4h-8zM910,1452h8v4h-8zM1014,1452h16v4h-16zM1266,1452h8v4h-8zM1306,1452h8v4h-8zM1610,1452h8v4h-8zM1666,1452h8v4h-8zM734,1456h20v4h-20zM854,1456h8v4h-8zM910,1456h8v4h-8zM1022,1456h8v4h-8zM1070,1456h20v4h-20zM1130,1456h8v4h-8zM1214,1456h16v4h-16zM1266,1456h8v4h-8zM1306,1456h8v4h-8zM1382,1456h8v4h-8zM1438,1456h8v4h-8zM1518,1456h20v4h-20zM1610,1456h8v4h-8zM1666,1456h8v4h-8zM734,1460h8v4h-8zM750,1460h8v4h-8zM1022,1460h8v4h-8zM1070,1460h8v4h-8zM1086,1460h8v4h-8zM1130,1460h8v4h-8zM1210,1460h8v4h-8zM1226,1460h8v4h-8zM1266,1460h8v4h-8zM1382,1460h8v4h-8zM1438,1460h8v4h-8zM1518,1460h8v4h-8zM1534,1460h8v4h-8zM734,1464h8v4h-8zM750,1464h8v4h-8zM762,1464h20v4h-20zM794,1464h16v4h-16zM818,1464h8v4h-8zM834,1464h8v4h-8zM850,1464h12v4h-12zM878,1464h16v4h-16zM906,1464h12v4h-12zM934,1464h16v4h-16zM958,1464h20v4h-20zM990,1464h16v4h-16zM1022,1464h8v4h-8zM1070,1464h8v4h-8zM1086,1464h8v4h-8zM1102,1464h16v4h-16zM1126,1464h20v4h-20zM1158,1464h16v4h-16zM1210,1464h8v4h-8zM1238,1464h8v4h-8zM1254,1464h8v4h-8zM1266,1464h20v4h-20zM1302,1464h12v4h-12zM1326,1464h16v4h-16zM1354,1464h16v4h-16zM1378,1464h20v4h-20zM1434,1464h20v4h-20zM1466,1464h16v4h-16zM1518,1464h8v4h-8zM1534,1464h8v4h-8zM1550,1464h16v4h-16zM1574,1464h8v4h-8zM1590,1464h8v4h-8zM1606,1464h12v4h-12zM1634,1464h16v4h-16zM1662,1464h12v4h-12zM1690,1464h16v4h-16zM1714,1464h20v4h-20zM594,1468h24v4h-24zM622,1468h24v4h-24zM650,1468h24v4h-24zM678,1468h24v4h-24zM734,1468h8v4h-8zM750,1468h8v4h-8zM762,1468h8v4h-8zM778,1468h8v4h-8zM790,1468h8v4h-8zM806,1468h8v4h-8zM818,1468h8v4h-8zM834,1468h8v4h-8zM854,1468h8v4h-8zM874,1468h8v4h-8zM890,1468h8v4h-8zM910,1468h8v4h-8zM930,1468h8v4h-8zM946,1468h8v4h-8zM958,1468h8v4h-8zM974,1468h8v4h-8zM1002,1468h8v4h-8zM1022,1468h8v4h-8zM1070,1468h8v4h-8zM1086,1468h8v4h-8zM1114,1468h8v4h-8zM1130,1468h8v4h-8zM1170,1468h8v4h-8zM1214,1468h16v4h-16zM1238,1468h8v4h-8zM1254,1468h8v4h-8zM1266,1468h8v4h-8zM1282,1468h8v4h-8zM1306,1468h8v4h-8zM1322,1468h8v4h-8zM1338,1468h8v4h-8zM1350,1468h8v4h-8zM1366,1468h8v4h-8zM1382,1468h8v4h-8zM1438,1468h8v4h-8zM1462,1468h8v4h-8zM1478,1468h8v4h-8zM1518,1468h8v4h-8zM1534,1468h8v4h-8zM1546,1468h8v4h-8zM1562,1468h8v4h-8zM1574,1468h8v4h-8zM1590,1468h8v4h-8zM1610,1468h8v4h-8zM1630,1468h8v4h-8zM1646,1468h8v4h-8zM1666,1468h8v4h-8zM1686,1468h8v4h-8zM1702,1468h8v4h-8zM1714,1468h8v4h-8zM1730,1468h8v4h-8zM1770,1468h24v4h-24zM1798,1468h24v4h-24zM1826,1468h24v4h-24zM1854,1468h24v4h-24zM594,1472h24v4h-24zM622,1472h24v4h-24zM650,1472h24v4h-24zM678,1472h24v4h-24zM734,1472h20v4h-20zM762,1472h8v4h-8zM790,1472h8v4h-8zM806,1472h8v4h-8zM818,1472h8v4h-8zM834,1472h8v4h-8zM854,1472h8v4h-8zM878,1472h12v4h-12zM910,1472h8v4h-8zM930,1472h8v4h-8zM946,1472h8v4h-8zM958,1472h8v4h-8zM974,1472h8v4h-8zM990,1472h20v4h-20zM1022,1472h8v4h-8zM1070,1472h8v4h-8zM1086,1472h8v4h-8zM1102,1472h20v4h-20zM1130,1472h8v4h-8zM1158,1472h20v4h-20zM1226,1472h8v4h-8zM1238,1472h8v4h-8zM1254,1472h8v4h-8zM1266,1472h8v4h-8zM1282,1472h8v4h-8zM1306,1472h8v4h-8zM1322,1472h24v4h-24zM1350,1472h8v4h-8zM1382,1472h8v4h-8zM1438,1472h8v4h-8zM1462,1472h8v4h-8zM1478,1472h8v4h-8zM1518,1472h20v4h-20zM1546,1472h24v4h-24zM1574,1472h8v4h-8zM1590,1472h8v4h-8zM1610,1472h8v4h-8zM1634,1472h12v4h-12zM1666,1472h8v4h-8zM1686,1472h8v4h-8zM1702,1472h8v4h-8zM1714,1472h8v4h-8zM1730,1472h8v4h-8zM1770,1472h24v4h-24zM1798,1472h24v4h-24zM1826,1472h24v4h-24zM1854,1472h24v4h-24zM734,1476h8v4h-8zM762,1476h8v4h-8zM790,1476h8v4h-8zM806,1476h8v4h-8zM822,1476h16v4h-16zM854,1476h8v4h-8zM886,1476h12v4h-12zM910,1476h8v4h-8zM930,1476h8v4h-8zM946,1476h8v4h-8zM958,1476h8v4h-8zM974,1476h8v4h-8zM986,1476h8v4h-8zM1002,1476h8v4h-8zM1022,1476h8v4h-8zM1070,1476h8v4h-8zM1086,1476h8v4h-8zM1098,1476h8v4h-8zM1114,1476h8v4h-8zM1130,1476h8v4h-8zM1154,1476h8v4h-8zM1170,1476h8v4h-8zM1226,1476h8v4h-8zM1238,1476h8v4h-8zM1254,1476h8v4h-8zM1266,1476h8v4h-8zM1282,1476h8v4h-8zM1306,1476h8v4h-8zM1322,1476h8v4h-8zM1350,1476h8v4h-8zM1382,1476h8v4h-8zM1438,1476h8v4h-8zM1462,1476h8v4h-8zM1478,1476h8v4h-8zM1518,1476h8v4h-8zM1530,1476h8v4h-8zM1546,1476h8v4h-8zM1578,1476h16v4h-16zM1610,1476h8v4h-8zM1642,1476h12v4h-12zM1666,1476h8v4h-8zM1686,1476h8v4h-8zM1702,1476h8v4h-8zM1714,1476h8v4h-8zM1730,1476h8v4h-8zM734,1480h8v4h-8zM762,1480h8v4h-8zM790,1480h8v4h-8zM806,1480h8v4h-8zM822,1480h16v4h-16zM854,1480h8v4h-8zM874,1480h8v4h-8zM890,1480h8v4h-8zM910,1480h8v4h-8zM930,1480h8v4h-8zM946,1480h8v4h-8zM958,1480h8v4h-8zM974,1480h8v4h-8zM986,1480h8v4h-8zM1002,1480h8v4h-8zM1022,1480h8v4h-8zM1070,1480h8v4h-8zM1086,1480h8v4h-8zM1098,1480h8v4h-8zM1114,1480h8v4h-8zM1130,1480h8v4h-8zM1142,1480h8v4h-8zM1154,1480h8v4h-8zM1170,1480h8v4h-8zM1210,1480h8v4h-8zM1226,1480h8v4h-8zM1238,1480h8v4h-8zM1254,1480h8v4h-8zM1266,1480h8v4h-8zM1282,1480h8v4h-8zM1306,1480h8v4h-8zM1322,1480h8v4h-8zM1338,1480h8v4h-8zM1350,1480h8v4h-8zM1366,1480h8v4h-8zM1382,1480h8v4h-8zM1394,1480h8v4h-8zM1438,1480h8v4h-8zM1450,1480h8v4h-8zM1462,1480h8v4h-8zM1478,1480h8v4h-8zM1518,1480h8v4h-8zM1534,1480h8v4h-8zM1546,1480h8v4h-8zM1562,1480h8v4h-8zM1578,1480h16v4h-16zM1610,1480h8v4h-8zM1630,1480h8v4h-8zM1646,1480h8v4h-8zM1666,1480h8v4h-8zM1686,1480h8v4h-8zM1702,1480h8v4h-8zM1714,1480h8v4h-8zM1730,1480h8v4h-8zM734,1484h8v4h-8zM762,1484h8v4h-8zM794,1484h16v4h-16zM826,1484h8v4h-8zM846,1484h24v4h-24zM878,1484h16v4h-16zM902,1484h24v4h-24zM934,1484h16v4h-16zM958,1484h8v4h-8zM974,1484h8v4h-8zM990,1484h20v4h-20zM1014,1484h24v4h-24zM1070,1484h20v4h-20zM1102,1484h20v4h-20zM1134,1484h12v4h-12zM1158,1484h20v4h-20zM1214,1484h16v4h-16zM1242,1484h20v4h-20zM1266,1484h20v4h-20zM1306,1484h8v4h-8zM1326,1484h16v4h-16zM1354,1484h16v4h-16zM1386,1484h12v4h-12zM1442,1484h12v4h-12zM1466,1484h16v4h-16zM1518,1484h8v4h-8zM1534,1484h8v4h-8zM1550,1484h16v4h-16zM1582,1484h8v4h-8zM1602,1484h24v4h-24zM1634,1484h16v4h-16zM1658,1484h24v4h-24zM1690,1484h16v4h-16zM1714,1484h8v4h-8zM1730,1484h8v4h-8zM1294,1488h8v4h-8zM1306,1488h8v4h-8zM1298,1492h12v4h-12z" fill="#e8322a"/>
<path d="M254,1556h4v4h-4zM250,1560h4v4h-4zM258,1560h4v4h-4zM250,1564h4v4h-4zM258,1564h4v4h-4zM246,1568h4v4h-4zM262,1568h4v4h-4zM242,1572h4v4h-4zM266,1572h4v4h-4zM242,1576h4v4h-4zM266,1576h4v4h-4zM238,1580h4v4h-4zM270,1580h4v4h-4zM238,1584h4v4h-4zM270,1584h4v4h-4zM234,1588h44v4h-44z" fill="#f0a83a"/>
<path d="M1286,1576h4v4h-4zM1302,1560h4v4h-4zM1286,1560h4v4h-4zM1286,1592h4v4h-4zM1290,1576h4v4h-4zM1302,1564h4v4h-4zM1290,1564h4v4h-4zM1290,1588h4v4h-4zM1294,1576h4v4h-4zM1302,1568h4v4h-4zM1294,1568h4v4h-4zM1294,1584h4v4h-4zM1298,1576h4v4h-4zM1302,1572h4v4h-4zM1298,1572h4v4h-4zM1298,1580h4v4h-4zM1302,1576h4v4h-4zM1306,1576h4v4h-4zM1302,1580h4v4h-4zM1306,1580h4v4h-4zM1306,1572h4v4h-4zM1310,1576h4v4h-4zM1302,1584h4v4h-4zM1310,1584h4v4h-4zM1310,1568h4v4h-4zM1314,1576h4v4h-4zM1302,1588h4v4h-4zM1314,1588h4v4h-4zM1314,1564h4v4h-4zM1318,1576h4v4h-4zM1302,1592h4v4h-4zM1318,1592h4v4h-4zM1318,1560h4v4h-4zM1298,1572h12v12h-12z" fill="#e8322a"/>
<rect x="218" y="1640" width="72" height="4" fill="#3581c8"/>
</g>
<path d="M0,0H2332V4H0z M0,1724H2332V1728H0z M0,0H6V1728H0z M2326,0H2332V1728H2326z" fill="#fefefe"/>
<path d="M6,4H2326V6.5H6z M6,1721.5H2326V1724H6z M6,4H8.5V1724H6z M2323.5,4H2326V1724H2323.5z" fill="#000"/>
</svg></body></html>
